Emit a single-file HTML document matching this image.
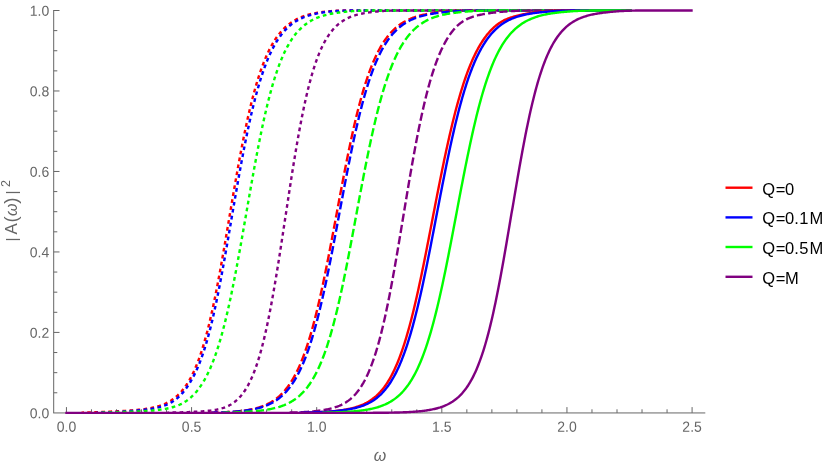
<!DOCTYPE html>
<html><head><meta charset="utf-8"><title>plot</title>
<style>
html,body{margin:0;padding:0;background:#fff;}
body{width:830px;height:468px;overflow:hidden;font-family:"Liberation Sans",sans-serif;}
svg{display:block;will-change:transform;}
text{font-family:"Liberation Sans",sans-serif;}
</style></head><body>
<svg width="830" height="468" viewBox="0 0 830 468">

<g stroke="#666666" stroke-width="1" fill="none" shape-rendering="auto">
<line x1="53.2" y1="412.95" x2="705.3" y2="412.95"/>
<line x1="53.7" y1="412.9" x2="53.7" y2="10.0"/>
<line x1="66.45" y1="412.9" x2="66.45" y2="407.1"/>
<line x1="91.48" y1="412.9" x2="91.48" y2="409.3"/>
<line x1="116.50" y1="412.9" x2="116.50" y2="409.3"/>
<line x1="141.53" y1="412.9" x2="141.53" y2="409.3"/>
<line x1="166.55" y1="412.9" x2="166.55" y2="409.3"/>
<line x1="191.57" y1="412.9" x2="191.57" y2="407.1"/>
<line x1="216.60" y1="412.9" x2="216.60" y2="409.3"/>
<line x1="241.62" y1="412.9" x2="241.62" y2="409.3"/>
<line x1="266.65" y1="412.9" x2="266.65" y2="409.3"/>
<line x1="291.68" y1="412.9" x2="291.68" y2="409.3"/>
<line x1="316.70" y1="412.9" x2="316.70" y2="407.1"/>
<line x1="341.73" y1="412.9" x2="341.73" y2="409.3"/>
<line x1="366.75" y1="412.9" x2="366.75" y2="409.3"/>
<line x1="391.78" y1="412.9" x2="391.78" y2="409.3"/>
<line x1="416.80" y1="412.9" x2="416.80" y2="409.3"/>
<line x1="441.82" y1="412.9" x2="441.82" y2="407.1"/>
<line x1="466.85" y1="412.9" x2="466.85" y2="409.3"/>
<line x1="491.88" y1="412.9" x2="491.88" y2="409.3"/>
<line x1="516.90" y1="412.9" x2="516.90" y2="409.3"/>
<line x1="541.93" y1="412.9" x2="541.93" y2="409.3"/>
<line x1="566.95" y1="412.9" x2="566.95" y2="407.1"/>
<line x1="591.98" y1="412.9" x2="591.98" y2="409.3"/>
<line x1="617.00" y1="412.9" x2="617.00" y2="409.3"/>
<line x1="642.03" y1="412.9" x2="642.03" y2="409.3"/>
<line x1="667.05" y1="412.9" x2="667.05" y2="409.3"/>
<line x1="692.08" y1="412.9" x2="692.08" y2="407.1"/>
<line x1="53.7" y1="392.78" x2="57.30" y2="392.78"/>
<line x1="53.7" y1="372.66" x2="57.30" y2="372.66"/>
<line x1="53.7" y1="352.54" x2="57.30" y2="352.54"/>
<line x1="53.7" y1="332.42" x2="59.50" y2="332.42"/>
<line x1="53.7" y1="312.30" x2="57.30" y2="312.30"/>
<line x1="53.7" y1="292.18" x2="57.30" y2="292.18"/>
<line x1="53.7" y1="272.06" x2="57.30" y2="272.06"/>
<line x1="53.7" y1="251.94" x2="59.50" y2="251.94"/>
<line x1="53.7" y1="231.82" x2="57.30" y2="231.82"/>
<line x1="53.7" y1="211.70" x2="57.30" y2="211.70"/>
<line x1="53.7" y1="191.58" x2="57.30" y2="191.58"/>
<line x1="53.7" y1="171.46" x2="59.50" y2="171.46"/>
<line x1="53.7" y1="151.34" x2="57.30" y2="151.34"/>
<line x1="53.7" y1="131.22" x2="57.30" y2="131.22"/>
<line x1="53.7" y1="111.10" x2="57.30" y2="111.10"/>
<line x1="53.7" y1="90.98" x2="59.50" y2="90.98"/>
<line x1="53.7" y1="70.86" x2="57.30" y2="70.86"/>
<line x1="53.7" y1="50.74" x2="57.30" y2="50.74"/>
<line x1="53.7" y1="30.62" x2="57.30" y2="30.62"/>
<line x1="53.7" y1="10.50" x2="59.50" y2="10.50"/>
</g>
<g fill="#666666" font-size="14px">
<text transform="translate(66.45,431.75) rotate(0.03) scale(1,1.05)" text-anchor="middle">0.0</text>
<text transform="translate(191.57,431.75) rotate(0.03) scale(1,1.05)" text-anchor="middle">0.5</text>
<text transform="translate(316.70,431.75) rotate(0.03) scale(1,1.05)" text-anchor="middle">1.0</text>
<text transform="translate(441.82,431.75) rotate(0.03) scale(1,1.05)" text-anchor="middle">1.5</text>
<text transform="translate(566.95,431.75) rotate(0.03) scale(1,1.05)" text-anchor="middle">2.0</text>
<text transform="translate(692.08,431.75) rotate(0.03) scale(1,1.05)" text-anchor="middle">2.5</text>
<text transform="translate(49.2,418.15) rotate(0.03) scale(1,1.03)" text-anchor="end">0.0</text>
<text transform="translate(49.2,337.67) rotate(0.03) scale(1,1.03)" text-anchor="end">0.2</text>
<text transform="translate(49.2,257.19) rotate(0.03) scale(1,1.03)" text-anchor="end">0.4</text>
<text transform="translate(49.2,176.71) rotate(0.03) scale(1,1.03)" text-anchor="end">0.6</text>
<text transform="translate(49.2,96.23) rotate(0.03) scale(1,1.03)" text-anchor="end">0.8</text>
<text transform="translate(49.2,15.75) rotate(0.03) scale(1,1.03)" text-anchor="end">1.0</text>
</g>
<text x="380" y="461" text-anchor="middle" font-size="16px" font-style="italic" fill="#666666">ω</text>
<g transform="translate(16.8,241.3) rotate(-90)" fill="#666666" font-size="15.5px">
<text x="-0.25" y="0.0">|</text><text x="6.9" y="0" font-size="16.9px">A</text><text x="18.75" y="0.56" font-size="18.7px">(</text><text x="25.2" y="0.4" font-style="italic" font-size="16px">ω</text><text x="37.6" y="0.56" font-size="18.7px">)</text><text x="46.7" y="0.0">|</text><text x="54.2" y="-6.6" font-size="12.5px">2</text>
</g>
<g fill="none" stroke-width="2.4" stroke-linejoin="round" stroke-linecap="butt">
<path d="M81.5,412.62 82.5,412.60 83.5,412.57 84.5,412.54 85.5,412.51 86.5,412.48 87.5,412.45 88.5,412.42 89.5,412.39 90.5,412.36 91.5,412.32 92.5,412.29 93.5,412.25 94.5,412.22 95.5,412.18 96.5,412.15 97.5,412.11 98.5,412.08 99.5,412.04 100.5,412.00 101.5,411.96 102.5,411.92 103.5,411.88 104.5,411.84 105.5,411.80 106.5,411.76 107.5,411.72 108.5,411.68 109.5,411.64 110.5,411.59 111.5,411.55 112.5,411.51 113.5,411.46 114.5,411.42 115.5,411.37 116.5,411.33 117.5,411.29 118.5,411.24 119.5,411.19 120.5,411.14 121.5,411.09 122.5,411.04 123.5,410.98 124.5,410.92 125.5,410.86 126.5,410.80 127.5,410.73 128.4,410.67 129.4,410.60 130.4,410.52 131.4,410.45 132.4,410.37 133.4,410.28 134.4,410.20 135.4,410.11 136.4,410.01 137.4,409.91 138.4,409.81 139.4,409.70 140.4,409.59 141.4,409.48 142.4,409.35 143.4,409.22 144.4,409.09 145.4,408.95 146.4,408.80 147.4,408.64 148.4,408.48 149.4,408.30 150.4,408.12 151.4,407.93 152.4,407.73 153.4,407.51 154.4,407.29 155.4,407.04 156.4,406.79 157.4,406.52 158.4,406.23 159.4,405.93 160.4,405.60 161.4,405.25 162.4,404.88 163.4,404.49 164.4,404.07 165.4,403.62 166.4,403.14 167.4,402.63 168.4,402.09 169.4,401.52 170.4,400.91 171.4,400.27 172.4,399.59 173.4,398.87 174.4,398.12 175.4,397.31 176.4,396.47 177.4,395.58 178.4,394.63 179.4,393.64 180.4,392.59 181.4,391.48 182.4,390.30 183.4,389.07 184.4,387.76 185.4,386.39 186.4,384.94 187.4,383.41 188.4,381.80 189.4,380.11 190.4,378.33 191.4,376.45 192.4,374.48 193.4,372.41 194.4,370.23 195.4,367.95 196.4,365.55 197.4,363.04 198.4,360.41 199.4,357.66 200.4,354.79 201.4,351.78 202.4,348.65 203.4,345.38 204.4,341.97 205.4,338.43 206.4,334.75 207.4,330.93 208.4,326.97 209.4,322.87 210.4,318.62 211.4,314.25 212.4,309.73 213.4,305.08 214.4,300.30 215.4,295.39 216.4,290.36 217.4,285.21 218.4,279.95 219.4,274.59 220.4,269.13 221.4,263.58 222.4,257.95 223.4,252.25 224.4,246.48 225.4,240.67 226.4,234.81 227.4,228.92 228.4,223.01 229.4,217.09 230.4,211.18 231.4,205.27 232.4,199.39 233.4,193.54 234.4,187.74 235.4,181.99 236.4,176.30 237.4,170.69 238.4,165.15 239.4,159.70 240.4,154.34 241.4,149.07 242.4,143.91 243.4,138.86 244.4,133.92 245.4,129.10 246.4,124.39 247.4,119.81 248.4,115.34 249.4,111.01 250.4,106.80 251.4,102.71 252.4,98.76 253.4,94.93 254.4,91.22 255.4,87.64 256.4,84.19 257.4,80.86 258.4,77.65 259.4,74.55 260.4,71.58 261.4,68.72 262.4,65.97 263.4,63.34 264.4,60.81 265.4,58.38 266.4,56.05 267.4,53.83 268.4,51.69 269.4,49.65 270.4,47.70 271.4,45.84 272.4,44.06 273.4,42.36 274.4,40.74 275.4,39.19 276.4,37.71 277.4,36.30 278.4,34.96 279.4,33.68 280.4,32.47 281.4,31.31 282.4,30.20 283.4,29.15 284.4,28.15 285.4,27.20 286.4,26.30 287.4,25.44 288.4,24.62 289.4,23.84 290.4,23.10 291.4,22.40 292.4,21.74 293.4,21.11 294.4,20.51 295.4,19.94 296.4,19.40 297.4,18.89 298.4,18.40 299.4,17.94 300.4,17.50 301.4,17.09 302.4,16.70 303.4,16.32 304.4,15.97 305.4,15.64 306.4,15.32 307.4,15.03 308.4,14.74 309.4,14.48 310.4,14.22 311.4,13.98 312.4,13.76 313.4,13.55 314.4,13.34 315.4,13.16 316.4,12.98 317.4,12.80 318.4,12.64 319.4,12.48 320.4,12.33 321.4,12.19 322.4,12.05 323.4,11.92 324.4,11.80 325.4,11.68 326.4,11.57 327.4,11.47 328.4,11.37 329.4,11.28 330.4,11.20 331.4,11.12 332.4,11.04 333.4,10.97 334.4,10.91 335.4,10.85 336.4,10.80 337.4,10.75 338.4,10.71 339.4,10.67 340.4,10.64 341.4,10.61 342.4,10.58 343.4,10.56 344.4,10.55 345.4,10.53 346.4,10.52 347.4,10.51 348.4,10.51 349.4,10.50 350.4,10.50 351.4,10.50 352.4,10.50 353.4,10.50 354.4,10.50 355.4,10.50 356.4,10.50 357.4,10.50 358.4,10.50 359.4,10.50 360.4,10.50 361.4,10.50 362.4,10.50 363.4,10.50 364.4,10.50 365.4,10.50 366.4,10.50 367.4,10.50 368.4,10.50 369.4,10.50 370.4,10.50 371.4,10.50 372.4,10.50 373.4,10.50 374.4,10.50 375.4,10.50 376.4,10.50 377.4,10.50 378.4,10.50 379.4,10.50 380.4,10.50 381.4,10.50 382.4,10.50 383.4,10.50 384.4,10.50 385.4,10.50 386.4,10.50 387.4,10.50 388.4,10.50 389.4,10.50 390.4,10.50 391.4,10.50 392.4,10.50 393.4,10.50 394.4,10.50 395.4,10.50 396.4,10.50 397.4,10.50 398.4,10.50 399.4,10.50 400.4,10.50 401.4,10.50 402.4,10.50 403.4,10.50 404.4,10.50 405.4,10.50 406.4,10.50 407.4,10.50 408.4,10.50 409.4,10.50 410.4,10.50 411.4,10.50 412.4,10.50 413.4,10.50 414.4,10.50 415.4,10.50 416.4,10.50 417.4,10.50 418.4,10.50 419.4,10.50 420.4,10.50 421.4,10.50 422.4,10.50 423.4,10.50 424.4,10.50 425.4,10.50 426.4,10.50 427.4,10.50 428.4,10.50 429.4,10.50 430.4,10.50 431.4,10.50 432.4,10.50 433.4,10.50 434.4,10.50 435.4,10.50 436.4,10.50 437.4,10.50 438.4,10.50 439.4,10.50 440.4,10.50 441.4,10.50 442.4,10.50 443.4,10.50 444.4,10.50 445.4,10.50 446.4,10.50 447.4,10.50 448.4,10.50 449.4,10.50 450.4,10.50 451.4,10.50 452.4,10.50 453.4,10.50 454.4,10.50 455.4,10.50 456.4,10.50 457.4,10.50 458.4,10.50 459.4,10.50 460.4,10.50 461.4,10.50 462.4,10.50 463.4,10.50 464.4,10.50 465.4,10.50 466.4,10.50 467.4,10.50 468.4,10.50 469.4,10.50 470.4,10.50 471.4,10.50 472.4,10.50 473.4,10.50 474.4,10.50 475.4,10.50 476.4,10.50 477.4,10.50 478.4,10.50 479.4,10.50 480.4,10.50 481.4,10.50 482.4,10.50 483.4,10.50 484.4,10.50 485.4,10.50 486.4,10.50 487.4,10.50 488.4,10.50 489.4,10.50 490.4,10.50 491.4,10.50 492.4,10.50 493.4,10.50 494.4,10.50 495.4,10.50 496.4,10.50 497.4,10.50 498.4,10.50 499.4,10.50 500.4,10.50 501.4,10.50 502.4,10.50 503.4,10.50 504.4,10.50 505.4,10.50 506.4,10.50 507.4,10.50 508.4,10.50 509.4,10.50 510.4,10.50 511.4,10.50 512.5,10.50 513.5,10.50 514.5,10.50 515.5,10.50 516.5,10.50 517.5,10.50 518.5,10.50 519.5,10.50 520.5,10.50 521.5,10.50 522.5,10.50 523.5,10.50 524.5,10.50 525.5,10.50 526.5,10.50 527.5,10.50 528.5,10.50 529.5,10.50 530.5,10.50 531.5,10.50 532.5,10.50 533.5,10.50 534.5,10.50 535.5,10.50 536.5,10.50 537.5,10.50 538.5,10.50 539.5,10.50 540.5,10.50 541.5,10.50 542.5,10.50 543.5,10.50 544.5,10.50 545.5,10.50 546.5,10.50 547.5,10.50 548.5,10.50 549.5,10.50 550.5,10.50 551.5,10.50 552.5,10.50 553.5,10.50 554.5,10.50 555.5,10.50 556.5,10.50 557.5,10.50 558.5,10.50 559.5,10.50 560.5,10.50 561.5,10.50 562.5,10.50 563.5,10.50 564.5,10.50 565.5,10.50 566.5,10.50 567.5,10.50 568.5,10.50 569.5,10.50 570.5,10.50 571.5,10.50 572.5,10.50 573.5,10.50 574.5,10.50 575.5,10.50 576.5,10.50 577.5,10.50 578.5,10.50 579.5,10.50 580.5,10.50 581.5,10.50 582.5,10.50 583.5,10.50 584.5,10.50 585.5,10.50 586.5,10.50 587.5,10.50 588.5,10.50 589.5,10.50 590.5,10.50 591.5,10.50 592.5,10.50 593.5,10.50 594.5,10.50 595.5,10.50 596.5,10.50 597.5,10.50 598.5,10.50 599.5,10.50 600.5,10.50 601.5,10.50 602.5,10.50 603.5,10.50 604.5,10.50 605.5,10.50 606.5,10.50 607.5,10.50 608.5,10.50 609.5,10.50 610.5,10.50 611.5,10.50 612.5,10.50 613.5,10.50 614.5,10.50 615.5,10.50 616.5,10.50 617.5,10.50 618.5,10.50 619.5,10.50 620.5,10.50 621.5,10.50 622.5,10.50 623.5,10.50 624.5,10.50 625.5,10.50 626.5,10.50 627.5,10.50 628.5,10.50 629.5,10.50 630.5,10.50" stroke="#ff0000" stroke-dasharray="3.7 3.35" stroke-dashoffset="1.28"/>
<path d="M96.5,412.65 97.5,412.62 98.5,412.60 99.5,412.57 100.5,412.55 101.5,412.52 102.5,412.49 103.5,412.46 104.5,412.43 105.5,412.39 106.5,412.36 107.5,412.32 108.5,412.28 109.5,412.24 110.5,412.20 111.5,412.16 112.5,412.11 113.5,412.07 114.5,412.02 115.5,411.97 116.5,411.92 117.5,411.87 118.5,411.81 119.5,411.76 120.5,411.70 121.5,411.64 122.5,411.58 123.5,411.52 124.5,411.45 125.5,411.39 126.5,411.32 127.5,411.25 128.4,411.18 129.4,411.10 130.4,411.03 131.4,410.95 132.4,410.87 133.4,410.79 134.4,410.70 135.4,410.62 136.4,410.53 137.4,410.44 138.4,410.35 139.4,410.26 140.4,410.17 141.4,410.08 142.4,409.98 143.4,409.88 144.4,409.77 145.4,409.66 146.4,409.54 147.4,409.41 148.4,409.28 149.4,409.14 150.4,408.99 151.4,408.84 152.4,408.67 153.4,408.49 154.4,408.30 155.4,408.10 156.4,407.89 157.4,407.67 158.4,407.42 159.4,407.17 160.4,406.89 161.4,406.60 162.4,406.29 163.4,405.96 164.4,405.60 165.4,405.23 166.4,404.82 167.4,404.39 168.4,403.93 169.4,403.44 170.4,402.91 171.4,402.35 172.4,401.75 173.4,401.11 174.4,400.42 175.4,399.69 176.4,398.92 177.4,398.09 178.4,397.21 179.4,396.28 180.4,395.29 181.4,394.23 182.4,393.12 183.4,391.95 184.4,390.71 185.4,389.41 186.4,388.04 187.4,386.60 188.4,385.10 189.4,383.53 190.4,381.89 191.4,380.18 192.4,378.40 193.4,376.53 194.4,374.58 195.4,372.54 196.4,370.41 197.4,368.19 198.4,365.86 199.4,363.42 200.4,360.87 201.4,358.19 202.4,355.39 203.4,352.46 204.4,349.40 205.4,346.20 206.4,342.86 207.4,339.39 208.4,335.77 209.4,332.01 210.4,328.11 211.4,324.07 212.4,319.88 213.4,315.55 214.4,311.08 215.4,306.48 216.4,301.74 217.4,296.88 218.4,291.89 219.4,286.79 220.4,281.57 221.4,276.25 222.4,270.84 223.4,265.34 224.4,259.76 225.4,254.11 226.4,248.41 227.4,242.66 228.4,236.87 229.4,231.06 230.4,225.24 231.4,219.40 232.4,213.57 233.4,207.75 234.4,201.95 235.4,196.18 236.4,190.44 237.4,184.76 238.4,179.13 239.4,173.56 240.4,168.06 241.4,162.64 242.4,157.30 243.4,152.05 244.4,146.89 245.4,141.84 246.4,136.88 247.4,132.04 248.4,127.31 249.4,122.70 250.4,118.20 251.4,113.82 252.4,109.57 253.4,105.43 254.4,101.42 255.4,97.53 256.4,93.77 257.4,90.12 258.4,86.61 259.4,83.21 260.4,79.93 261.4,76.77 262.4,73.72 263.4,70.79 264.4,67.97 265.4,65.26 266.4,62.66 267.4,60.17 268.4,57.77 269.4,55.48 270.4,53.28 271.4,51.17 272.4,49.16 273.4,47.23 274.4,45.39 275.4,43.63 276.4,41.94 277.4,40.34 278.4,38.81 279.4,37.35 280.4,35.95 281.4,34.63 282.4,33.36 283.4,32.16 284.4,31.01 285.4,29.92 286.4,28.88 287.4,27.89 288.4,26.95 289.4,26.06 290.4,25.21 291.4,24.41 292.4,23.64 293.4,22.91 294.4,22.22 295.4,21.57 296.4,20.95 297.4,20.36 298.4,19.80 299.4,19.27 300.4,18.77 301.4,18.29 302.4,17.84 303.4,17.42 304.4,17.01 305.4,16.63 306.4,16.27 307.4,15.93 308.4,15.60 309.4,15.30 310.4,15.01 311.4,14.73 312.4,14.47 313.4,14.23 314.4,14.00 315.4,13.78 316.4,13.57 317.4,13.38 318.4,13.20 319.4,13.02 320.4,12.86 321.4,12.70 322.4,12.54 323.4,12.40 324.4,12.26 325.4,12.12 326.4,11.99 327.4,11.87 328.4,11.76 329.4,11.65 330.4,11.54 331.4,11.45 332.4,11.35 333.4,11.27 334.4,11.19 335.4,11.11 336.4,11.04 337.4,10.97 338.4,10.91 339.4,10.86 340.4,10.81 341.4,10.76 342.4,10.72 343.4,10.68 344.4,10.65 345.4,10.62 346.4,10.59 347.4,10.57 348.4,10.55 349.4,10.54 350.4,10.53 351.4,10.52 352.4,10.51 353.4,10.50 354.4,10.50 355.4,10.50 356.4,10.50 357.4,10.50 358.4,10.50 359.4,10.50 360.4,10.50 361.4,10.50 362.4,10.50 363.4,10.50 364.4,10.50 365.4,10.50 366.4,10.50 367.4,10.50 368.4,10.50 369.4,10.50 370.4,10.50 371.4,10.50 372.4,10.50 373.4,10.50 374.4,10.50 375.4,10.50 376.4,10.50 377.4,10.50 378.4,10.50 379.4,10.50 380.4,10.50 381.4,10.50 382.4,10.50 383.4,10.50 384.4,10.50 385.4,10.50 386.4,10.50 387.4,10.50 388.4,10.50 389.4,10.50 390.4,10.50 391.4,10.50 392.4,10.50 393.4,10.50 394.4,10.50 395.4,10.50 396.4,10.50 397.4,10.50 398.4,10.50 399.4,10.50 400.4,10.50 401.4,10.50 402.4,10.50 403.4,10.50 404.4,10.50 405.4,10.50 406.4,10.50 407.4,10.50 408.4,10.50 409.4,10.50 410.4,10.50 411.4,10.50 412.4,10.50 413.4,10.50 414.4,10.50 415.4,10.50 416.4,10.50 417.4,10.50 418.4,10.50 419.4,10.50 420.4,10.50 421.4,10.50 422.4,10.50 423.4,10.50 424.4,10.50 425.4,10.50 426.4,10.50 427.4,10.50 428.4,10.50 429.4,10.50 430.4,10.50 431.4,10.50 432.4,10.50 433.4,10.50 434.4,10.50 435.4,10.50 436.4,10.50 437.4,10.50 438.4,10.50 439.4,10.50 440.4,10.50 441.4,10.50 442.4,10.50 443.4,10.50 444.4,10.50 445.4,10.50 446.4,10.50 447.4,10.50 448.4,10.50 449.4,10.50 450.4,10.50 451.4,10.50 452.4,10.50 453.4,10.50 454.4,10.50 455.4,10.50 456.4,10.50 457.4,10.50 458.4,10.50 459.4,10.50 460.4,10.50 461.4,10.50 462.4,10.50 463.4,10.50 464.4,10.50 465.4,10.50 466.4,10.50 467.4,10.50 468.4,10.50 469.4,10.50 470.4,10.50 471.4,10.50 472.4,10.50 473.4,10.50 474.4,10.50 475.4,10.50 476.4,10.50 477.4,10.50 478.4,10.50 479.4,10.50 480.4,10.50 481.4,10.50 482.4,10.50 483.4,10.50 484.4,10.50 485.4,10.50 486.4,10.50 487.4,10.50 488.4,10.50 489.4,10.50 490.4,10.50 491.4,10.50 492.4,10.50 493.4,10.50 494.4,10.50 495.4,10.50 496.4,10.50 497.4,10.50 498.4,10.50 499.4,10.50 500.4,10.50 501.4,10.50 502.4,10.50 503.4,10.50 504.4,10.50 505.4,10.50 506.4,10.50 507.4,10.50 508.4,10.50 509.4,10.50 510.4,10.50 511.4,10.50 512.5,10.50 513.5,10.50 514.5,10.50 515.5,10.50 516.5,10.50 517.5,10.50 518.5,10.50 519.5,10.50 520.5,10.50 521.5,10.50 522.5,10.50 523.5,10.50 524.5,10.50 525.5,10.50 526.5,10.50 527.5,10.50 528.5,10.50 529.5,10.50 530.5,10.50 531.5,10.50 532.5,10.50 533.5,10.50 534.5,10.50 535.5,10.50 536.5,10.50 537.5,10.50 538.5,10.50 539.5,10.50 540.5,10.50 541.5,10.50 542.5,10.50 543.5,10.50 544.5,10.50 545.5,10.50 546.5,10.50 547.5,10.50 548.5,10.50 549.5,10.50 550.5,10.50 551.5,10.50 552.5,10.50 553.5,10.50 554.5,10.50 555.5,10.50 556.5,10.50 557.5,10.50 558.5,10.50 559.5,10.50 560.5,10.50 561.5,10.50 562.5,10.50 563.5,10.50 564.5,10.50 565.5,10.50 566.5,10.50 567.5,10.50 568.5,10.50 569.5,10.50 570.5,10.50 571.5,10.50 572.5,10.50 573.5,10.50 574.5,10.50 575.5,10.50 576.5,10.50 577.5,10.50 578.5,10.50 579.5,10.50 580.5,10.50 581.5,10.50 582.5,10.50 583.5,10.50 584.5,10.50 585.5,10.50 586.5,10.50 587.5,10.50 588.5,10.50 589.5,10.50 590.5,10.50 591.5,10.50 592.5,10.50 593.5,10.50 594.5,10.50 595.5,10.50 596.5,10.50 597.5,10.50 598.5,10.50 599.5,10.50 600.5,10.50 601.5,10.50 602.5,10.50 603.5,10.50 604.5,10.50 605.5,10.50 606.5,10.50 607.5,10.50 608.5,10.50 609.5,10.50 610.5,10.50 611.5,10.50 612.5,10.50 613.5,10.50 614.5,10.50 615.5,10.50 616.5,10.50 617.5,10.50 618.5,10.50 619.5,10.50 620.5,10.50 621.5,10.50 622.5,10.50 623.5,10.50 624.5,10.50 625.5,10.50 626.5,10.50 627.5,10.50 628.5,10.50 629.5,10.50 630.5,10.50" stroke="#0000ff" stroke-dasharray="3.7 3.35" stroke-dashoffset="2.26"/>
<path d="M101.5,412.63 102.5,412.61 103.5,412.59 104.5,412.57 105.5,412.55 106.5,412.53 107.5,412.51 108.5,412.49 109.5,412.46 110.5,412.44 111.5,412.41 112.5,412.39 113.5,412.36 114.5,412.33 115.5,412.30 116.5,412.27 117.5,412.24 118.5,412.21 119.5,412.18 120.5,412.14 121.5,412.11 122.5,412.07 123.5,412.04 124.5,412.00 125.5,411.97 126.5,411.93 127.5,411.89 128.4,411.85 129.4,411.81 130.4,411.76 131.4,411.72 132.4,411.68 133.4,411.63 134.4,411.59 135.4,411.54 136.4,411.49 137.4,411.44 138.4,411.39 139.4,411.35 140.4,411.30 141.4,411.25 142.4,411.20 143.4,411.14 144.4,411.09 145.4,411.03 146.4,410.96 147.4,410.90 148.4,410.83 149.4,410.76 150.4,410.68 151.4,410.60 152.4,410.52 153.4,410.43 154.4,410.33 155.4,410.23 156.4,410.13 157.4,410.02 158.4,409.90 159.4,409.78 160.4,409.65 161.4,409.51 162.4,409.36 163.4,409.21 164.4,409.04 165.4,408.86 166.4,408.68 167.4,408.48 168.4,408.27 169.4,408.04 170.4,407.80 171.4,407.54 172.4,407.27 173.4,406.98 174.4,406.67 175.4,406.34 176.4,405.98 177.4,405.61 178.4,405.20 179.4,404.78 180.4,404.32 181.4,403.83 182.4,403.31 183.4,402.76 184.4,402.18 185.4,401.55 186.4,400.89 187.4,400.18 188.4,399.44 189.4,398.64 190.4,397.80 191.4,396.91 192.4,395.97 193.4,394.98 194.4,393.93 195.4,392.82 196.4,391.66 197.4,390.44 198.4,389.16 199.4,387.81 200.4,386.40 201.4,384.92 202.4,383.36 203.4,381.73 204.4,380.02 205.4,378.23 206.4,376.35 207.4,374.39 208.4,372.33 209.4,370.19 210.4,367.94 211.4,365.59 212.4,363.14 213.4,360.58 214.4,357.91 215.4,355.12 216.4,352.22 217.4,349.20 218.4,346.06 219.4,342.80 220.4,339.42 221.4,335.90 222.4,332.27 223.4,328.50 224.4,324.61 225.4,320.59 226.4,316.45 227.4,312.18 228.4,307.78 229.4,303.27 230.4,298.63 231.4,293.88 232.4,289.02 233.4,284.06 234.4,278.99 235.4,273.82 236.4,268.56 237.4,263.21 238.4,257.79 239.4,252.30 240.4,246.75 241.4,241.14 242.4,235.48 243.4,229.79 244.4,224.07 245.4,218.34 246.4,212.59 247.4,206.84 248.4,201.10 249.4,195.39 250.4,189.70 251.4,184.04 252.4,178.43 253.4,172.88 254.4,167.39 255.4,161.97 256.4,156.63 257.4,151.37 258.4,146.20 259.4,141.13 260.4,136.16 261.4,131.30 262.4,126.55 263.4,121.91 264.4,117.39 265.4,112.99 266.4,108.72 267.4,104.57 268.4,100.54 269.4,96.64 270.4,92.87 271.4,89.22 272.4,85.69 273.4,82.29 274.4,79.02 275.4,75.86 276.4,72.83 277.4,69.91 278.4,67.11 279.4,64.42 280.4,61.84 281.4,59.36 282.4,56.99 283.4,54.73 284.4,52.56 285.4,50.49 286.4,48.51 287.4,46.62 288.4,44.81 289.4,43.09 290.4,41.45 291.4,39.88 292.4,38.39 293.4,36.97 294.4,35.62 295.4,34.33 296.4,33.11 297.4,31.94 298.4,30.83 299.4,29.78 300.4,28.78 301.4,27.82 302.4,26.92 303.4,26.06 304.4,25.24 305.4,24.46 306.4,23.72 307.4,23.02 308.4,22.36 309.4,21.73 310.4,21.13 311.4,20.56 312.4,20.02 313.4,19.50 314.4,19.02 315.4,18.56 316.4,18.12 317.4,17.70 318.4,17.31 319.4,16.94 320.4,16.58 321.4,16.25 322.4,15.93 323.4,15.63 324.4,15.34 325.4,15.07 326.4,14.82 327.4,14.57 328.4,14.34 329.4,14.13 330.4,13.92 331.4,13.72 332.4,13.54 333.4,13.36 334.4,13.20 335.4,13.04 336.4,12.89 337.4,12.74 338.4,12.60 339.4,12.46 340.4,12.33 341.4,12.21 342.4,12.09 343.4,11.97 344.4,11.86 345.4,11.76 346.4,11.66 347.4,11.56 348.4,11.47 349.4,11.39 350.4,11.31 351.4,11.23 352.4,11.16 353.4,11.09 354.4,11.03 355.4,10.97 356.4,10.92 357.4,10.87 358.4,10.82 359.4,10.78 360.4,10.74 361.4,10.70 362.4,10.67 363.4,10.64 364.4,10.61 365.4,10.59 366.4,10.57 367.4,10.55 368.4,10.54 369.4,10.53 370.4,10.52 371.4,10.51 372.4,10.51 373.4,10.50 374.4,10.50 375.4,10.50 376.4,10.50 377.4,10.50 378.4,10.50 379.4,10.50 380.4,10.50 381.4,10.50 382.4,10.50 383.4,10.50 384.4,10.50 385.4,10.50 386.4,10.50 387.4,10.50 388.4,10.50 389.4,10.50 390.4,10.50 391.4,10.50 392.4,10.50 393.4,10.50 394.4,10.50 395.4,10.50 396.4,10.50 397.4,10.50 398.4,10.50 399.4,10.50 400.4,10.50 401.4,10.50 402.4,10.50 403.4,10.50 404.4,10.50 405.4,10.50 406.4,10.50 407.4,10.50 408.4,10.50 409.4,10.50 410.4,10.50 411.4,10.50 412.4,10.50 413.4,10.50 414.4,10.50 415.4,10.50 416.4,10.50 417.4,10.50 418.4,10.50 419.4,10.50 420.4,10.50 421.4,10.50 422.4,10.50 423.4,10.50 424.4,10.50 425.4,10.50 426.4,10.50 427.4,10.50 428.4,10.50 429.4,10.50 430.4,10.50 431.4,10.50 432.4,10.50 433.4,10.50 434.4,10.50 435.4,10.50 436.4,10.50 437.4,10.50 438.4,10.50 439.4,10.50 440.4,10.50 441.4,10.50 442.4,10.50 443.4,10.50 444.4,10.50 445.4,10.50 446.4,10.50 447.4,10.50 448.4,10.50 449.4,10.50 450.4,10.50 451.4,10.50 452.4,10.50 453.4,10.50 454.4,10.50 455.4,10.50 456.4,10.50 457.4,10.50 458.4,10.50 459.4,10.50 460.4,10.50 461.4,10.50 462.4,10.50 463.4,10.50 464.4,10.50 465.4,10.50 466.4,10.50 467.4,10.50 468.4,10.50 469.4,10.50 470.4,10.50 471.4,10.50 472.4,10.50 473.4,10.50 474.4,10.50 475.4,10.50 476.4,10.50 477.4,10.50 478.4,10.50 479.4,10.50 480.4,10.50 481.4,10.50 482.4,10.50 483.4,10.50 484.4,10.50 485.4,10.50 486.4,10.50 487.4,10.50 488.4,10.50 489.4,10.50 490.4,10.50 491.4,10.50 492.4,10.50 493.4,10.50 494.4,10.50 495.4,10.50 496.4,10.50 497.4,10.50 498.4,10.50 499.4,10.50 500.4,10.50 501.4,10.50 502.4,10.50 503.4,10.50 504.4,10.50 505.4,10.50 506.4,10.50 507.4,10.50 508.4,10.50 509.4,10.50 510.4,10.50 511.4,10.50 512.5,10.50 513.5,10.50 514.5,10.50 515.5,10.50 516.5,10.50 517.5,10.50 518.5,10.50 519.5,10.50 520.5,10.50 521.5,10.50 522.5,10.50 523.5,10.50 524.5,10.50 525.5,10.50 526.5,10.50 527.5,10.50 528.5,10.50 529.5,10.50 530.5,10.50 531.5,10.50 532.5,10.50 533.5,10.50 534.5,10.50 535.5,10.50 536.5,10.50 537.5,10.50 538.5,10.50 539.5,10.50 540.5,10.50 541.5,10.50 542.5,10.50 543.5,10.50 544.5,10.50 545.5,10.50 546.5,10.50 547.5,10.50 548.5,10.50 549.5,10.50 550.5,10.50 551.5,10.50 552.5,10.50 553.5,10.50 554.5,10.50 555.5,10.50 556.5,10.50 557.5,10.50 558.5,10.50 559.5,10.50 560.5,10.50 561.5,10.50 562.5,10.50 563.5,10.50 564.5,10.50 565.5,10.50 566.5,10.50 567.5,10.50 568.5,10.50 569.5,10.50 570.5,10.50 571.5,10.50 572.5,10.50 573.5,10.50 574.5,10.50 575.5,10.50 576.5,10.50 577.5,10.50 578.5,10.50 579.5,10.50 580.5,10.50 581.5,10.50 582.5,10.50 583.5,10.50 584.5,10.50 585.5,10.50 586.5,10.50 587.5,10.50 588.5,10.50 589.5,10.50 590.5,10.50 591.5,10.50 592.5,10.50 593.5,10.50 594.5,10.50 595.5,10.50 596.5,10.50 597.5,10.50 598.5,10.50 599.5,10.50 600.5,10.50 601.5,10.50 602.5,10.50 603.5,10.50 604.5,10.50 605.5,10.50 606.5,10.50 607.5,10.50 608.5,10.50 609.5,10.50 610.5,10.50 611.5,10.50 612.5,10.50 613.5,10.50 614.5,10.50 615.5,10.50 616.5,10.50 617.5,10.50 618.5,10.50 619.5,10.50 620.5,10.50 621.5,10.50 622.5,10.50 623.5,10.50 624.5,10.50 625.5,10.50 626.5,10.50 627.5,10.50 628.5,10.50 629.5,10.50 630.5,10.50" stroke="#00ff00" stroke-dasharray="3.7 3.35" stroke-dashoffset="7.02"/>
<path d="M167.4,412.64 168.4,412.62 169.4,412.60 170.4,412.59 171.4,412.57 172.4,412.55 173.4,412.53 174.4,412.51 175.4,412.48 176.4,412.46 177.4,412.44 178.4,412.41 179.4,412.38 180.4,412.36 181.4,412.33 182.4,412.30 183.4,412.26 184.4,412.23 185.4,412.19 186.4,412.16 187.4,412.12 188.4,412.08 189.4,412.04 190.4,412.00 191.4,411.95 192.4,411.91 193.4,411.86 194.4,411.81 195.4,411.75 196.4,411.70 197.4,411.65 198.4,411.59 199.4,411.53 200.4,411.47 201.4,411.41 202.4,411.34 203.4,411.26 204.4,411.18 205.4,411.10 206.4,411.01 207.4,410.91 208.4,410.81 209.4,410.69 210.4,410.58 211.4,410.45 212.4,410.31 213.4,410.16 214.4,410.00 215.4,409.83 216.4,409.64 217.4,409.45 218.4,409.23 219.4,409.00 220.4,408.74 221.4,408.47 222.4,408.18 223.4,407.86 224.4,407.51 225.4,407.14 226.4,406.73 227.4,406.29 228.4,405.82 229.4,405.31 230.4,404.76 231.4,404.16 232.4,403.53 233.4,402.84 234.4,402.10 235.4,401.31 236.4,400.46 237.4,399.56 238.4,398.59 239.4,397.56 240.4,396.46 241.4,395.29 242.4,394.04 243.4,392.71 244.4,391.29 245.4,389.78 246.4,388.17 247.4,386.47 248.4,384.66 249.4,382.74 250.4,380.70 251.4,378.54 252.4,376.26 253.4,373.85 254.4,371.30 255.4,368.61 256.4,365.77 257.4,362.79 258.4,359.65 259.4,356.35 260.4,352.89 261.4,349.26 262.4,345.47 263.4,341.51 264.4,337.38 265.4,333.08 266.4,328.60 267.4,323.95 268.4,319.13 269.4,314.15 270.4,309.00 271.4,303.69 272.4,298.23 273.4,292.62 274.4,286.87 275.4,280.98 276.4,274.98 277.4,268.85 278.4,262.62 279.4,256.30 280.4,249.89 281.4,243.42 282.4,236.89 283.4,230.32 284.4,223.72 285.4,217.10 286.4,210.49 287.4,203.89 288.4,197.31 289.4,190.77 290.4,184.29 291.4,177.88 292.4,171.54 293.4,165.30 294.4,159.16 295.4,153.12 296.4,147.21 297.4,141.43 298.4,135.78 299.4,130.27 300.4,124.91 301.4,119.71 302.4,114.66 303.4,109.77 304.4,105.04 305.4,100.47 306.4,96.07 307.4,91.83 308.4,87.75 309.4,83.83 310.4,80.07 311.4,76.47 312.4,73.02 313.4,69.72 314.4,66.57 315.4,63.56 316.4,60.69 317.4,57.96 318.4,55.36 319.4,52.88 320.4,50.53 321.4,48.29 322.4,46.17 323.4,44.16 324.4,42.25 325.4,40.44 326.4,38.72 327.4,37.10 328.4,35.56 329.4,34.11 330.4,32.74 331.4,31.44 332.4,30.21 333.4,29.06 334.4,27.96 335.4,26.93 336.4,25.96 337.4,25.04 338.4,24.17 339.4,23.36 340.4,22.59 341.4,21.86 342.4,21.18 343.4,20.54 344.4,19.93 345.4,19.36 346.4,18.82 347.4,18.32 348.4,17.84 349.4,17.40 350.4,16.98 351.4,16.58 352.4,16.21 353.4,15.86 354.4,15.53 355.4,15.22 356.4,14.93 357.4,14.66 358.4,14.40 359.4,14.16 360.4,13.93 361.4,13.72 362.4,13.52 363.4,13.33 364.4,13.15 365.4,12.98 366.4,12.82 367.4,12.66 368.4,12.51 369.4,12.37 370.4,12.23 371.4,12.10 372.4,11.98 373.4,11.86 374.4,11.74 375.4,11.64 376.4,11.53 377.4,11.44 378.4,11.35 379.4,11.26 380.4,11.18 381.4,11.11 382.4,11.04 383.4,10.97 384.4,10.91 385.4,10.86 386.4,10.81 387.4,10.76 388.4,10.72 389.4,10.68 390.4,10.65 391.4,10.62 392.4,10.60 393.4,10.57 394.4,10.56 395.4,10.54 396.4,10.53 397.4,10.52 398.4,10.51 399.4,10.50 400.4,10.50 401.4,10.50 402.4,10.50 403.4,10.50 404.4,10.50 405.4,10.50 406.4,10.50 407.4,10.50 408.4,10.50 409.4,10.50 410.4,10.50 411.4,10.50 412.4,10.50 413.4,10.50 414.4,10.50 415.4,10.50 416.4,10.50 417.4,10.50 418.4,10.50 419.4,10.50 420.4,10.50 421.4,10.50 422.4,10.50 423.4,10.50 424.4,10.50 425.4,10.50 426.4,10.50 427.4,10.50 428.4,10.50 429.4,10.50 430.4,10.50 431.4,10.50 432.4,10.50 433.4,10.50 434.4,10.50 435.4,10.50 436.4,10.50 437.4,10.50 438.4,10.50 439.4,10.50 440.4,10.50 441.4,10.50 442.4,10.50 443.4,10.50 444.4,10.50 445.4,10.50 446.4,10.50 447.4,10.50 448.4,10.50 449.4,10.50 450.4,10.50 451.4,10.50 452.4,10.50 453.4,10.50 454.4,10.50 455.4,10.50 456.4,10.50 457.4,10.50 458.4,10.50 459.4,10.50 460.4,10.50 461.4,10.50 462.4,10.50 463.4,10.50 464.4,10.50 465.4,10.50 466.4,10.50 467.4,10.50 468.4,10.50 469.4,10.50 470.4,10.50 471.4,10.50 472.4,10.50 473.4,10.50 474.4,10.50 475.4,10.50 476.4,10.50 477.4,10.50 478.4,10.50 479.4,10.50 480.4,10.50 481.4,10.50 482.4,10.50 483.4,10.50 484.4,10.50 485.4,10.50 486.4,10.50 487.4,10.50 488.4,10.50 489.4,10.50 490.4,10.50 491.4,10.50 492.4,10.50 493.4,10.50 494.4,10.50 495.4,10.50 496.4,10.50 497.4,10.50 498.4,10.50 499.4,10.50 500.4,10.50 501.4,10.50 502.4,10.50 503.4,10.50 504.4,10.50 505.4,10.50 506.4,10.50 507.4,10.50 508.4,10.50 509.4,10.50 510.4,10.50 511.4,10.50 512.5,10.50 513.5,10.50 514.5,10.50 515.5,10.50 516.5,10.50 517.5,10.50 518.5,10.50 519.5,10.50 520.5,10.50 521.5,10.50 522.5,10.50 523.5,10.50 524.5,10.50 525.5,10.50 526.5,10.50 527.5,10.50 528.5,10.50 529.5,10.50 530.5,10.50 531.5,10.50 532.5,10.50 533.5,10.50 534.5,10.50 535.5,10.50 536.5,10.50 537.5,10.50 538.5,10.50 539.5,10.50 540.5,10.50 541.5,10.50 542.5,10.50 543.5,10.50 544.5,10.50 545.5,10.50 546.5,10.50 547.5,10.50 548.5,10.50 549.5,10.50 550.5,10.50 551.5,10.50 552.5,10.50 553.5,10.50 554.5,10.50 555.5,10.50 556.5,10.50 557.5,10.50 558.5,10.50 559.5,10.50 560.5,10.50 561.5,10.50 562.5,10.50 563.5,10.50 564.5,10.50 565.5,10.50 566.5,10.50 567.5,10.50 568.5,10.50 569.5,10.50 570.5,10.50 571.5,10.50 572.5,10.50 573.5,10.50 574.5,10.50 575.5,10.50 576.5,10.50 577.5,10.50 578.5,10.50 579.5,10.50 580.5,10.50 581.5,10.50 582.5,10.50 583.5,10.50 584.5,10.50 585.5,10.50 586.5,10.50 587.5,10.50 588.5,10.50 589.5,10.50 590.5,10.50 591.5,10.50 592.5,10.50 593.5,10.50 594.5,10.50 595.5,10.50 596.5,10.50 597.5,10.50 598.5,10.50 599.5,10.50 600.5,10.50 601.5,10.50 602.5,10.50 603.5,10.50 604.5,10.50 605.5,10.50 606.5,10.50 607.5,10.50 608.5,10.50 609.5,10.50 610.5,10.50 611.5,10.50 612.5,10.50 613.5,10.50 614.5,10.50 615.5,10.50 616.5,10.50 617.5,10.50 618.5,10.50 619.5,10.50 620.5,10.50 621.5,10.50 622.5,10.50 623.5,10.50 624.5,10.50 625.5,10.50 626.5,10.50 627.5,10.50 628.5,10.50 629.5,10.50 630.5,10.50" stroke="#800080" stroke-dasharray="3.7 3.35" stroke-dashoffset="1.94"/>
<path d="M210.4,412.64 211.4,412.63 212.4,412.60 213.4,412.58 214.4,412.56 215.4,412.53 216.4,412.51 217.4,412.48 218.4,412.45 219.4,412.42 220.4,412.38 221.4,412.35 222.4,412.31 223.4,412.26 224.4,412.22 225.4,412.17 226.4,412.12 227.4,412.07 228.4,412.02 229.4,411.96 230.4,411.89 231.4,411.83 232.4,411.76 233.4,411.68 234.4,411.60 235.4,411.52 236.4,411.43 237.4,411.34 238.4,411.24 239.4,411.14 240.4,411.02 241.4,410.91 242.4,410.79 243.4,410.66 244.4,410.52 245.4,410.38 246.4,410.22 247.4,410.06 248.4,409.89 249.4,409.72 250.4,409.53 251.4,409.33 252.4,409.12 253.4,408.90 254.4,408.67 255.4,408.42 256.4,408.16 257.4,407.89 258.4,407.60 259.4,407.29 260.4,406.97 261.4,406.63 262.4,406.27 263.4,405.89 264.4,405.49 265.4,405.07 266.4,404.62 267.4,404.15 268.4,403.65 269.4,403.13 270.4,402.58 271.4,402.00 272.4,401.39 273.4,400.75 274.4,400.07 275.4,399.35 276.4,398.60 277.4,397.81 278.4,396.98 279.4,396.11 280.4,395.19 281.4,394.22 282.4,393.21 283.4,392.14 284.4,391.02 285.4,389.85 286.4,388.61 287.4,387.32 288.4,385.96 289.4,384.54 290.4,383.05 291.4,381.49 292.4,379.86 293.4,378.15 294.4,376.37 295.4,374.50 296.4,372.55 297.4,370.52 298.4,368.40 299.4,366.18 300.4,363.88 301.4,361.47 302.4,358.97 303.4,356.37 304.4,353.67 305.4,350.87 306.4,347.96 307.4,344.94 308.4,341.81 309.4,338.58 310.4,335.23 311.4,331.78 312.4,328.21 313.4,324.53 314.4,320.74 315.4,316.84 316.4,312.83 317.4,308.72 318.4,304.49 319.4,300.17 320.4,295.74 321.4,291.22 322.4,286.60 323.4,281.89 324.4,277.10 325.4,272.22 326.4,267.27 327.4,262.25 328.4,257.16 329.4,252.01 330.4,246.81 331.4,241.57 332.4,236.28 333.4,230.97 334.4,225.63 335.4,220.27 336.4,214.91 337.4,209.54 338.4,204.18 339.4,198.83 340.4,193.50 341.4,188.20 342.4,182.94 343.4,177.72 344.4,172.55 345.4,167.43 346.4,162.38 347.4,157.39 348.4,152.48 349.4,147.65 350.4,142.90 351.4,138.23 352.4,133.66 353.4,129.18 354.4,124.80 355.4,120.52 356.4,116.35 357.4,112.28 358.4,108.31 359.4,104.46 360.4,100.71 361.4,97.07 362.4,93.54 363.4,90.12 364.4,86.81 365.4,83.60 366.4,80.51 367.4,77.51 368.4,74.63 369.4,71.84 370.4,69.16 371.4,66.57 372.4,64.08 373.4,61.69 374.4,59.39 375.4,57.18 376.4,55.06 377.4,53.02 378.4,51.07 379.4,49.19 380.4,47.40 381.4,45.68 382.4,44.03 383.4,42.46 384.4,40.95 385.4,39.51 386.4,38.13 387.4,36.82 388.4,35.56 389.4,34.36 390.4,33.21 391.4,32.12 392.4,31.07 393.4,30.07 394.4,29.12 395.4,28.22 396.4,27.35 397.4,26.53 398.4,25.75 399.4,25.00 400.4,24.29 401.4,23.61 402.4,22.96 403.4,22.35 404.4,21.76 405.4,21.21 406.4,20.68 407.4,20.17 408.4,19.69 409.4,19.24 410.4,18.80 411.4,18.39 412.4,17.99 413.4,17.62 414.4,17.27 415.4,16.93 416.4,16.61 417.4,16.30 418.4,16.01 419.4,15.73 420.4,15.47 421.4,15.22 422.4,14.99 423.4,14.76 424.4,14.55 425.4,14.34 426.4,14.15 427.4,13.97 428.4,13.79 429.4,13.63 430.4,13.47 431.4,13.32 432.4,13.18 433.4,13.04 434.4,12.91 435.4,12.78 436.4,12.65 437.4,12.53 438.4,12.41 439.4,12.30 440.4,12.19 441.4,12.09 442.4,11.99 443.4,11.89 444.4,11.80 445.4,11.71 446.4,11.62 447.4,11.54 448.4,11.46 449.4,11.39 450.4,11.32 451.4,11.25 452.4,11.19 453.4,11.13 454.4,11.07 455.4,11.01 456.4,10.96 457.4,10.92 458.4,10.87 459.4,10.83 460.4,10.79 461.4,10.76 462.4,10.72 463.4,10.69 464.4,10.66 465.4,10.64 466.4,10.62 467.4,10.60 468.4,10.58 469.4,10.56 470.4,10.55 471.4,10.54 472.4,10.53 473.4,10.52 474.4,10.51 475.4,10.51 476.4,10.50 477.4,10.50 478.4,10.50 479.4,10.50 480.4,10.50 481.4,10.50 482.4,10.50 483.4,10.50 484.4,10.50 485.4,10.50 486.4,10.50 487.4,10.50 488.4,10.50 489.4,10.50 490.4,10.50 491.4,10.50 492.4,10.50 493.4,10.50 494.4,10.50 495.4,10.50 496.4,10.50 497.4,10.50 498.4,10.50 499.4,10.50 500.4,10.50 501.4,10.50 502.4,10.50 503.4,10.50 504.4,10.50 505.4,10.50 506.4,10.50 507.4,10.50 508.4,10.50 509.4,10.50 510.4,10.50 511.4,10.50 512.5,10.50 513.5,10.50 514.5,10.50 515.5,10.50 516.5,10.50 517.5,10.50 518.5,10.50 519.5,10.50 520.5,10.50 521.5,10.50 522.5,10.50 523.5,10.50 524.5,10.50 525.5,10.50 526.5,10.50 527.5,10.50 528.5,10.50 529.5,10.50 530.5,10.50 531.5,10.50 532.5,10.50 533.5,10.50 534.5,10.50 535.5,10.50 536.5,10.50 537.5,10.50 538.5,10.50 539.5,10.50 540.5,10.50 541.5,10.50 542.5,10.50 543.5,10.50 544.5,10.50 545.5,10.50 546.5,10.50 547.5,10.50 548.5,10.50 549.5,10.50 550.5,10.50 551.5,10.50 552.5,10.50 553.5,10.50 554.5,10.50 555.5,10.50 556.5,10.50 557.5,10.50 558.5,10.50 559.5,10.50 560.5,10.50 561.5,10.50 562.5,10.50 563.5,10.50 564.5,10.50 565.5,10.50 566.5,10.50 567.5,10.50 568.5,10.50 569.5,10.50 570.5,10.50 571.5,10.50 572.5,10.50 573.5,10.50 574.5,10.50 575.5,10.50 576.5,10.50 577.5,10.50 578.5,10.50 579.5,10.50 580.5,10.50 581.5,10.50 582.5,10.50 583.5,10.50 584.5,10.50 585.5,10.50 586.5,10.50 587.5,10.50 588.5,10.50 589.5,10.50 590.5,10.50 591.5,10.50 592.5,10.50 593.5,10.50 594.5,10.50 595.5,10.50 596.5,10.50 597.5,10.50 598.5,10.50 599.5,10.50 600.5,10.50 601.5,10.50 602.5,10.50 603.5,10.50 604.5,10.50 605.5,10.50 606.5,10.50 607.5,10.50 608.5,10.50 609.5,10.50 610.5,10.50 611.5,10.50 612.5,10.50 613.5,10.50 614.5,10.50 615.5,10.50 616.5,10.50 617.5,10.50 618.5,10.50 619.5,10.50 620.5,10.50 621.5,10.50 622.5,10.50 623.5,10.50 624.5,10.50 625.5,10.50 626.5,10.50 627.5,10.50 628.5,10.50 629.5,10.50 630.5,10.50" stroke="#ff0000" stroke-dasharray="8.2 3.2" stroke-dashoffset="0.03"/>
<path d="M211.4,412.64 212.4,412.62 213.4,412.59 214.4,412.57 215.4,412.55 216.4,412.52 217.4,412.50 218.4,412.47 219.4,412.44 220.4,412.41 221.4,412.37 222.4,412.34 223.4,412.30 224.4,412.26 225.4,412.21 226.4,412.17 227.4,412.12 228.4,412.07 229.4,412.01 230.4,411.96 231.4,411.89 232.4,411.83 233.4,411.76 234.4,411.69 235.4,411.61 236.4,411.53 237.4,411.45 238.4,411.36 239.4,411.26 240.4,411.16 241.4,411.06 242.4,410.94 243.4,410.83 244.4,410.70 245.4,410.57 246.4,410.43 247.4,410.29 248.4,410.14 249.4,409.98 250.4,409.81 251.4,409.63 252.4,409.45 253.4,409.25 254.4,409.05 255.4,408.83 256.4,408.60 257.4,408.35 258.4,408.10 259.4,407.83 260.4,407.54 261.4,407.24 262.4,406.92 263.4,406.59 264.4,406.23 265.4,405.86 266.4,405.47 267.4,405.06 268.4,404.62 269.4,404.16 270.4,403.68 271.4,403.17 272.4,402.63 273.4,402.06 274.4,401.47 275.4,400.84 276.4,400.18 277.4,399.48 278.4,398.75 279.4,397.98 280.4,397.17 281.4,396.32 282.4,395.43 283.4,394.49 284.4,393.51 285.4,392.47 286.4,391.38 287.4,390.24 288.4,389.05 289.4,387.79 290.4,386.47 291.4,385.09 292.4,383.65 293.4,382.14 294.4,380.55 295.4,378.89 296.4,377.16 297.4,375.35 298.4,373.46 299.4,371.48 300.4,369.42 301.4,367.27 302.4,365.03 303.4,362.69 304.4,360.26 305.4,357.74 306.4,355.11 307.4,352.38 308.4,349.55 309.4,346.61 310.4,343.56 311.4,340.41 312.4,337.14 313.4,333.77 314.4,330.29 315.4,326.69 316.4,322.99 317.4,319.18 318.4,315.25 319.4,311.22 320.4,307.08 321.4,302.84 322.4,298.50 323.4,294.05 324.4,289.51 325.4,284.88 326.4,280.16 327.4,275.35 328.4,270.47 329.4,265.51 330.4,260.48 331.4,255.38 332.4,250.24 333.4,245.04 334.4,239.79 335.4,234.52 336.4,229.21 337.4,223.88 338.4,218.53 339.4,213.18 340.4,207.83 341.4,202.49 342.4,197.16 343.4,191.86 344.4,186.59 345.4,181.35 346.4,176.16 347.4,171.02 348.4,165.94 349.4,160.92 350.4,155.97 351.4,151.09 352.4,146.29 353.4,141.58 354.4,136.96 355.4,132.42 356.4,127.99 357.4,123.65 358.4,119.41 359.4,115.28 360.4,111.25 361.4,107.33 362.4,103.52 363.4,99.81 364.4,96.21 365.4,92.72 366.4,89.34 367.4,86.07 368.4,82.90 369.4,79.84 370.4,76.89 371.4,74.04 372.4,71.29 373.4,68.64 374.4,66.08 375.4,63.63 376.4,61.27 377.4,58.99 378.4,56.81 379.4,54.72 380.4,52.71 381.4,50.78 382.4,48.93 383.4,47.16 384.4,45.46 385.4,43.84 386.4,42.29 387.4,40.80 388.4,39.38 389.4,38.01 390.4,36.72 391.4,35.47 392.4,34.29 393.4,33.15 394.4,32.07 395.4,31.04 396.4,30.06 397.4,29.12 398.4,28.22 399.4,27.37 400.4,26.55 401.4,25.78 402.4,25.04 403.4,24.33 404.4,23.66 405.4,23.02 406.4,22.41 407.4,21.83 408.4,21.28 409.4,20.75 410.4,20.25 411.4,19.78 412.4,19.32 413.4,18.89 414.4,18.48 415.4,18.09 416.4,17.72 417.4,17.36 418.4,17.03 419.4,16.71 420.4,16.40 421.4,16.11 422.4,15.84 423.4,15.57 424.4,15.33 425.4,15.09 426.4,14.86 427.4,14.65 428.4,14.45 429.4,14.25 430.4,14.07 431.4,13.89 432.4,13.73 433.4,13.57 434.4,13.42 435.4,13.27 436.4,13.14 437.4,13.00 438.4,12.87 439.4,12.75 440.4,12.63 441.4,12.51 442.4,12.40 443.4,12.29 444.4,12.18 445.4,12.08 446.4,11.98 447.4,11.89 448.4,11.80 449.4,11.71 450.4,11.63 451.4,11.55 452.4,11.47 453.4,11.40 454.4,11.33 455.4,11.26 456.4,11.20 457.4,11.14 458.4,11.08 459.4,11.03 460.4,10.98 461.4,10.93 462.4,10.89 463.4,10.85 464.4,10.81 465.4,10.77 466.4,10.74 467.4,10.71 468.4,10.68 469.4,10.65 470.4,10.63 471.4,10.61 472.4,10.59 473.4,10.57 474.4,10.56 475.4,10.54 476.4,10.53 477.4,10.52 478.4,10.52 479.4,10.51 480.4,10.51 481.4,10.50 482.4,10.50 483.4,10.50 484.4,10.50 485.4,10.50 486.4,10.50 487.4,10.50 488.4,10.50 489.4,10.50 490.4,10.50 491.4,10.50 492.4,10.50 493.4,10.50 494.4,10.50 495.4,10.50 496.4,10.50 497.4,10.50 498.4,10.50 499.4,10.50 500.4,10.50 501.4,10.50 502.4,10.50 503.4,10.50 504.4,10.50 505.4,10.50 506.4,10.50 507.4,10.50 508.4,10.50 509.4,10.50 510.4,10.50 511.4,10.50 512.5,10.50 513.5,10.50 514.5,10.50 515.5,10.50 516.5,10.50 517.5,10.50 518.5,10.50 519.5,10.50 520.5,10.50 521.5,10.50 522.5,10.50 523.5,10.50 524.5,10.50 525.5,10.50 526.5,10.50 527.5,10.50 528.5,10.50 529.5,10.50 530.5,10.50 531.5,10.50 532.5,10.50 533.5,10.50 534.5,10.50 535.5,10.50 536.5,10.50 537.5,10.50 538.5,10.50 539.5,10.50 540.5,10.50 541.5,10.50 542.5,10.50 543.5,10.50 544.5,10.50 545.5,10.50 546.5,10.50 547.5,10.50 548.5,10.50 549.5,10.50 550.5,10.50 551.5,10.50 552.5,10.50 553.5,10.50 554.5,10.50 555.5,10.50 556.5,10.50 557.5,10.50 558.5,10.50 559.5,10.50 560.5,10.50 561.5,10.50 562.5,10.50 563.5,10.50 564.5,10.50 565.5,10.50 566.5,10.50 567.5,10.50 568.5,10.50 569.5,10.50 570.5,10.50 571.5,10.50 572.5,10.50 573.5,10.50 574.5,10.50 575.5,10.50 576.5,10.50 577.5,10.50 578.5,10.50 579.5,10.50 580.5,10.50 581.5,10.50 582.5,10.50 583.5,10.50 584.5,10.50 585.5,10.50 586.5,10.50 587.5,10.50 588.5,10.50 589.5,10.50 590.5,10.50 591.5,10.50 592.5,10.50 593.5,10.50 594.5,10.50 595.5,10.50 596.5,10.50 597.5,10.50 598.5,10.50 599.5,10.50 600.5,10.50 601.5,10.50 602.5,10.50 603.5,10.50 604.5,10.50 605.5,10.50 606.5,10.50 607.5,10.50 608.5,10.50 609.5,10.50 610.5,10.50 611.5,10.50 612.5,10.50 613.5,10.50 614.5,10.50 615.5,10.50 616.5,10.50 617.5,10.50 618.5,10.50 619.5,10.50 620.5,10.50 621.5,10.50 622.5,10.50 623.5,10.50 624.5,10.50 625.5,10.50 626.5,10.50 627.5,10.50 628.5,10.50 629.5,10.50 630.5,10.50" stroke="#0000ff" stroke-dasharray="8.2 3.2" stroke-dashoffset="1.75"/>
<path d="M222.4,412.65 223.4,412.63 224.4,412.61 225.4,412.59 226.4,412.57 227.4,412.55 228.4,412.53 229.4,412.50 230.4,412.48 231.4,412.45 232.4,412.42 233.4,412.39 234.4,412.36 235.4,412.33 236.4,412.29 237.4,412.25 238.4,412.22 239.4,412.17 240.4,412.13 241.4,412.09 242.4,412.04 243.4,411.99 244.4,411.93 245.4,411.88 246.4,411.82 247.4,411.75 248.4,411.69 249.4,411.62 250.4,411.55 251.4,411.47 252.4,411.39 253.4,411.31 254.4,411.22 255.4,411.13 256.4,411.03 257.4,410.93 258.4,410.82 259.4,410.71 260.4,410.60 261.4,410.47 262.4,410.34 263.4,410.21 264.4,410.07 265.4,409.92 266.4,409.77 267.4,409.61 268.4,409.44 269.4,409.25 270.4,409.06 271.4,408.86 272.4,408.65 273.4,408.43 274.4,408.19 275.4,407.95 276.4,407.69 277.4,407.41 278.4,407.12 279.4,406.82 280.4,406.49 281.4,406.16 282.4,405.80 283.4,405.42 284.4,405.03 285.4,404.61 286.4,404.17 287.4,403.70 288.4,403.22 289.4,402.70 290.4,402.16 291.4,401.59 292.4,400.99 293.4,400.36 294.4,399.69 295.4,398.99 296.4,398.25 297.4,397.48 298.4,396.66 299.4,395.80 300.4,394.90 301.4,393.95 302.4,392.96 303.4,391.91 304.4,390.81 305.4,389.65 306.4,388.44 307.4,387.17 308.4,385.83 309.4,384.43 310.4,382.97 311.4,381.43 312.4,379.82 313.4,378.13 314.4,376.36 315.4,374.52 316.4,372.59 317.4,370.57 318.4,368.46 319.4,366.26 320.4,363.97 321.4,361.58 322.4,359.09 323.4,356.50 324.4,353.81 325.4,351.01 326.4,348.10 327.4,345.08 328.4,341.95 329.4,338.71 330.4,335.35 331.4,331.89 332.4,328.30 333.4,324.61 334.4,320.80 335.4,316.88 336.4,312.84 337.4,308.70 338.4,304.45 339.4,300.09 340.4,295.63 341.4,291.07 342.4,286.41 343.4,281.66 344.4,276.82 345.4,271.91 346.4,266.91 347.4,261.85 348.4,256.72 349.4,251.53 350.4,246.29 351.4,241.01 352.4,235.69 353.4,230.34 354.4,224.98 355.4,219.59 356.4,214.21 357.4,208.82 358.4,203.45 359.4,198.09 360.4,192.76 361.4,187.46 362.4,182.21 363.4,177.00 364.4,171.85 365.4,166.75 366.4,161.73 367.4,156.77 368.4,151.89 369.4,147.09 370.4,142.38 371.4,137.76 372.4,133.22 373.4,128.79 374.4,124.45 375.4,120.22 376.4,116.09 377.4,112.06 378.4,108.14 379.4,104.32 380.4,100.61 381.4,97.01 382.4,93.52 383.4,90.13 384.4,86.85 385.4,83.68 386.4,80.61 387.4,77.64 388.4,74.77 389.4,72.01 390.4,69.34 391.4,66.77 392.4,64.30 393.4,61.92 394.4,59.63 395.4,57.42 396.4,55.31 397.4,53.27 398.4,51.32 399.4,49.45 400.4,47.65 401.4,45.93 402.4,44.28 403.4,42.70 404.4,41.19 405.4,39.74 406.4,38.35 407.4,37.02 408.4,35.76 409.4,34.54 410.4,33.39 411.4,32.28 412.4,31.22 413.4,30.21 414.4,29.25 415.4,28.33 416.4,27.46 417.4,26.62 418.4,25.82 419.4,25.06 420.4,24.34 421.4,23.65 422.4,22.99 423.4,22.37 424.4,21.77 425.4,21.21 426.4,20.67 427.4,20.16 428.4,19.67 429.4,19.20 430.4,18.76 431.4,18.34 432.4,17.95 433.4,17.57 434.4,17.21 435.4,16.86 436.4,16.54 437.4,16.23 438.4,15.94 439.4,15.66 440.4,15.39 441.4,15.14 442.4,14.91 443.4,14.68 444.4,14.46 445.4,14.26 446.4,14.07 447.4,13.88 448.4,13.71 449.4,13.54 450.4,13.39 451.4,13.24 452.4,13.09 453.4,12.96 454.4,12.82 455.4,12.69 456.4,12.57 457.4,12.45 458.4,12.33 459.4,12.22 460.4,12.11 461.4,12.01 462.4,11.91 463.4,11.81 464.4,11.72 465.4,11.63 466.4,11.55 467.4,11.47 468.4,11.39 469.4,11.32 470.4,11.25 471.4,11.18 472.4,11.12 473.4,11.06 474.4,11.01 475.4,10.96 476.4,10.91 477.4,10.86 478.4,10.82 479.4,10.78 480.4,10.75 481.4,10.71 482.4,10.68 483.4,10.66 484.4,10.63 485.4,10.61 486.4,10.59 487.4,10.57 488.4,10.56 489.4,10.54 490.4,10.53 491.4,10.52 492.4,10.51 493.4,10.51 494.4,10.51 495.4,10.50 496.4,10.50 497.4,10.50 498.4,10.50 499.4,10.50 500.4,10.50 501.4,10.50 502.4,10.50 503.4,10.50 504.4,10.50 505.4,10.50 506.4,10.50 507.4,10.50 508.4,10.50 509.4,10.50 510.4,10.50 511.4,10.50 512.5,10.50 513.5,10.50 514.5,10.50 515.5,10.50 516.5,10.50 517.5,10.50 518.5,10.50 519.5,10.50 520.5,10.50 521.5,10.50 522.5,10.50 523.5,10.50 524.5,10.50 525.5,10.50 526.5,10.50 527.5,10.50 528.5,10.50 529.5,10.50 530.5,10.50 531.5,10.50 532.5,10.50 533.5,10.50 534.5,10.50 535.5,10.50 536.5,10.50 537.5,10.50 538.5,10.50 539.5,10.50 540.5,10.50 541.5,10.50 542.5,10.50 543.5,10.50 544.5,10.50 545.5,10.50 546.5,10.50 547.5,10.50 548.5,10.50 549.5,10.50 550.5,10.50 551.5,10.50 552.5,10.50 553.5,10.50 554.5,10.50 555.5,10.50 556.5,10.50 557.5,10.50 558.5,10.50 559.5,10.50 560.5,10.50 561.5,10.50 562.5,10.50 563.5,10.50 564.5,10.50 565.5,10.50 566.5,10.50 567.5,10.50 568.5,10.50 569.5,10.50 570.5,10.50 571.5,10.50 572.5,10.50 573.5,10.50 574.5,10.50 575.5,10.50 576.5,10.50 577.5,10.50 578.5,10.50 579.5,10.50 580.5,10.50 581.5,10.50 582.5,10.50 583.5,10.50 584.5,10.50 585.5,10.50 586.5,10.50 587.5,10.50 588.5,10.50 589.5,10.50 590.5,10.50 591.5,10.50 592.5,10.50 593.5,10.50 594.5,10.50 595.5,10.50 596.5,10.50 597.5,10.50 598.5,10.50 599.5,10.50 600.5,10.50 601.5,10.50 602.5,10.50 603.5,10.50 604.5,10.50 605.5,10.50 606.5,10.50 607.5,10.50 608.5,10.50 609.5,10.50 610.5,10.50 611.5,10.50 612.5,10.50 613.5,10.50 614.5,10.50 615.5,10.50 616.5,10.50 617.5,10.50 618.5,10.50 619.5,10.50 620.5,10.50 621.5,10.50 622.5,10.50 623.5,10.50 624.5,10.50 625.5,10.50 626.5,10.50 627.5,10.50 628.5,10.50 629.5,10.50 630.5,10.50" stroke="#00ff00" stroke-dasharray="8.2 3.2" stroke-dashoffset="0.7"/>
<path d="M286.4,412.64 287.4,412.62 288.4,412.60 289.4,412.58 290.4,412.55 291.4,412.53 292.4,412.50 293.4,412.48 294.4,412.45 295.4,412.42 296.4,412.38 297.4,412.35 298.4,412.31 299.4,412.27 300.4,412.22 301.4,412.18 302.4,412.13 303.4,412.08 304.4,412.02 305.4,411.97 306.4,411.91 307.4,411.84 308.4,411.77 309.4,411.70 310.4,411.62 311.4,411.54 312.4,411.45 313.4,411.35 314.4,411.26 315.4,411.15 316.4,411.04 317.4,410.92 318.4,410.80 319.4,410.67 320.4,410.53 321.4,410.39 322.4,410.23 323.4,410.07 324.4,409.89 325.4,409.71 326.4,409.52 327.4,409.32 328.4,409.10 329.4,408.87 330.4,408.64 331.4,408.39 332.4,408.13 333.4,407.85 334.4,407.55 335.4,407.23 336.4,406.89 337.4,406.53 338.4,406.15 339.4,405.74 340.4,405.30 341.4,404.84 342.4,404.35 343.4,403.82 344.4,403.26 345.4,402.67 346.4,402.03 347.4,401.36 348.4,400.64 349.4,399.88 350.4,399.07 351.4,398.21 352.4,397.29 353.4,396.32 354.4,395.29 355.4,394.19 356.4,393.03 357.4,391.80 358.4,390.50 359.4,389.12 360.4,387.66 361.4,386.12 362.4,384.49 363.4,382.78 364.4,380.97 365.4,379.06 366.4,377.05 367.4,374.94 368.4,372.72 369.4,370.38 370.4,367.93 371.4,365.36 372.4,362.67 373.4,359.85 374.4,356.90 375.4,353.81 376.4,350.59 377.4,347.24 378.4,343.74 379.4,340.10 380.4,336.32 381.4,332.39 382.4,328.32 383.4,324.11 384.4,319.75 385.4,315.25 386.4,310.62 387.4,305.84 388.4,300.94 389.4,295.90 390.4,290.74 391.4,285.47 392.4,280.08 393.4,274.58 394.4,268.99 395.4,263.31 396.4,257.54 397.4,251.71 398.4,245.81 399.4,239.86 400.4,233.87 401.4,227.85 402.4,221.81 403.4,215.77 404.4,209.72 405.4,203.69 406.4,197.68 407.4,191.70 408.4,185.78 409.4,179.90 410.4,174.09 411.4,168.36 412.4,162.70 413.4,157.14 414.4,151.67 415.4,146.29 416.4,141.03 417.4,135.87 418.4,130.84 419.4,125.92 420.4,121.12 421.4,116.45 422.4,111.91 423.4,107.49 424.4,103.21 425.4,99.06 426.4,95.04 427.4,91.16 428.4,87.40 429.4,83.78 430.4,80.28 431.4,76.91 432.4,73.67 433.4,70.56 434.4,67.56 435.4,64.68 436.4,61.92 437.4,59.28 438.4,56.75 439.4,54.32 440.4,52.00 441.4,49.78 442.4,47.66 443.4,45.64 444.4,43.71 445.4,41.87 446.4,40.12 447.4,38.45 448.4,36.86 449.4,35.34 450.4,33.90 451.4,32.54 452.4,31.24 453.4,30.00 454.4,28.84 455.4,27.74 456.4,26.70 457.4,25.73 458.4,24.82 459.4,23.96 460.4,23.16 461.4,22.42 462.4,21.72 463.4,21.08 464.4,20.48 465.4,19.92 466.4,19.39 467.4,18.91 468.4,18.46 469.4,18.03 470.4,17.64 471.4,17.27 472.4,16.92 473.4,16.59 474.4,16.28 475.4,15.99 476.4,15.72 477.4,15.46 478.4,15.21 479.4,14.98 480.4,14.76 481.4,14.55 482.4,14.35 483.4,14.16 484.4,13.98 485.4,13.81 486.4,13.65 487.4,13.49 488.4,13.34 489.4,13.20 490.4,13.07 491.4,12.93 492.4,12.81 493.4,12.68 494.4,12.56 495.4,12.45 496.4,12.34 497.4,12.23 498.4,12.13 499.4,12.03 500.4,11.93 501.4,11.84 502.4,11.75 503.4,11.66 504.4,11.58 505.4,11.50 506.4,11.43 507.4,11.36 508.4,11.29 509.4,11.22 510.4,11.16 511.4,11.10 512.5,11.05 513.5,11.00 514.5,10.95 515.5,10.90 516.5,10.86 517.5,10.82 518.5,10.78 519.5,10.75 520.5,10.72 521.5,10.69 522.5,10.66 523.5,10.64 524.5,10.61 525.5,10.59 526.5,10.58 527.5,10.56 528.5,10.55 529.5,10.54 530.5,10.53 531.5,10.52 532.5,10.51 533.5,10.51 534.5,10.50 535.5,10.50 536.5,10.50 537.5,10.50 538.5,10.50 539.5,10.50 540.5,10.50 541.5,10.50 542.5,10.50 543.5,10.50 544.5,10.50 545.5,10.50 546.5,10.50 547.5,10.50 548.5,10.50 549.5,10.50 550.5,10.50 551.5,10.50 552.5,10.50 553.5,10.50 554.5,10.50 555.5,10.50 556.5,10.50 557.5,10.50 558.5,10.50 559.5,10.50 560.5,10.50 561.5,10.50 562.5,10.50 563.5,10.50 564.5,10.50 565.5,10.50 566.5,10.50 567.5,10.50 568.5,10.50 569.5,10.50 570.5,10.50 571.5,10.50 572.5,10.50 573.5,10.50 574.5,10.50 575.5,10.50 576.5,10.50 577.5,10.50 578.5,10.50 579.5,10.50 580.5,10.50 581.5,10.50 582.5,10.50 583.5,10.50 584.5,10.50 585.5,10.50 586.5,10.50 587.5,10.50 588.5,10.50 589.5,10.50 590.5,10.50 591.5,10.50 592.5,10.50 593.5,10.50 594.5,10.50 595.5,10.50 596.5,10.50 597.5,10.50 598.5,10.50 599.5,10.50 600.5,10.50 601.5,10.50 602.5,10.50 603.5,10.50 604.5,10.50 605.5,10.50 606.5,10.50 607.5,10.50 608.5,10.50 609.5,10.50 610.5,10.50 611.5,10.50 612.5,10.50 613.5,10.50 614.5,10.50 615.5,10.50 616.5,10.50 617.5,10.50 618.5,10.50 619.5,10.50 620.5,10.50 621.5,10.50 622.5,10.50 623.5,10.50 624.5,10.50 625.5,10.50 626.5,10.50 627.5,10.50 628.5,10.50 629.5,10.50 630.5,10.50" stroke="#800080" stroke-dasharray="8.2 3.2" stroke-dashoffset="8.28"/>
<path d="M301.4,412.64 302.4,412.63 303.4,412.61 304.4,412.59 305.4,412.57 306.4,412.55 307.4,412.53 308.4,412.50 309.4,412.48 310.4,412.45 311.4,412.42 312.4,412.39 313.4,412.36 314.4,412.33 315.4,412.29 316.4,412.25 317.4,412.22 318.4,412.17 319.4,412.13 320.4,412.08 321.4,412.03 322.4,411.98 323.4,411.93 324.4,411.87 325.4,411.81 326.4,411.74 327.4,411.67 328.4,411.60 329.4,411.53 330.4,411.45 331.4,411.36 332.4,411.28 333.4,411.18 334.4,411.08 335.4,410.98 336.4,410.87 337.4,410.76 338.4,410.64 339.4,410.51 340.4,410.38 341.4,410.24 342.4,410.09 343.4,409.94 344.4,409.77 345.4,409.60 346.4,409.42 347.4,409.24 348.4,409.04 349.4,408.83 350.4,408.61 351.4,408.38 352.4,408.13 353.4,407.87 354.4,407.60 355.4,407.31 356.4,407.01 357.4,406.69 358.4,406.35 359.4,405.99 360.4,405.61 361.4,405.21 362.4,404.79 363.4,404.35 364.4,403.88 365.4,403.38 366.4,402.86 367.4,402.31 368.4,401.73 369.4,401.12 370.4,400.47 371.4,399.79 372.4,399.08 373.4,398.32 374.4,397.53 375.4,396.69 376.4,395.81 377.4,394.88 378.4,393.91 379.4,392.88 380.4,391.80 381.4,390.67 382.4,389.47 383.4,388.22 384.4,386.91 385.4,385.53 386.4,384.08 387.4,382.56 388.4,380.97 389.4,379.30 390.4,377.56 391.4,375.73 392.4,373.83 393.4,371.83 394.4,369.75 395.4,367.58 396.4,365.31 397.4,362.95 398.4,360.49 399.4,357.93 400.4,355.27 401.4,352.50 402.4,349.63 403.4,346.66 404.4,343.57 405.4,340.38 406.4,337.08 407.4,333.67 408.4,330.15 409.4,326.52 410.4,322.79 411.4,318.94 412.4,315.00 413.4,310.94 414.4,306.79 415.4,302.54 416.4,298.19 417.4,293.75 418.4,289.22 419.4,284.61 420.4,279.92 421.4,275.16 422.4,270.32 423.4,265.42 424.4,260.47 425.4,255.46 426.4,250.41 427.4,245.32 428.4,240.20 429.4,235.05 430.4,229.89 431.4,224.71 432.4,219.53 433.4,214.35 434.4,209.17 435.4,204.01 436.4,198.87 437.4,193.75 438.4,188.67 439.4,183.62 440.4,178.61 441.4,173.65 442.4,168.74 443.4,163.89 444.4,159.11 445.4,154.38 446.4,149.73 447.4,145.16 448.4,140.66 449.4,136.24 450.4,131.90 451.4,127.65 452.4,123.49 453.4,119.42 454.4,115.45 455.4,111.56 456.4,107.77 457.4,104.08 458.4,100.48 459.4,96.98 460.4,93.57 461.4,90.26 462.4,87.05 463.4,83.94 464.4,80.91 465.4,77.99 466.4,75.15 467.4,72.41 468.4,69.76 469.4,67.20 470.4,64.72 471.4,62.34 472.4,60.03 473.4,57.81 474.4,55.67 475.4,53.61 476.4,51.63 477.4,49.72 478.4,47.89 479.4,46.12 480.4,44.43 481.4,42.80 482.4,41.24 483.4,39.74 484.4,38.31 485.4,36.93 486.4,35.61 487.4,34.35 488.4,33.14 489.4,31.98 490.4,30.87 491.4,29.82 492.4,28.81 493.4,27.85 494.4,26.94 495.4,26.08 496.4,25.26 497.4,24.48 498.4,23.75 499.4,23.06 500.4,22.42 501.4,21.80 502.4,21.23 503.4,20.69 504.4,20.18 505.4,19.70 506.4,19.25 507.4,18.83 508.4,18.43 509.4,18.06 510.4,17.70 511.4,17.36 512.5,17.04 513.5,16.73 514.5,16.44 515.5,16.16 516.5,15.90 517.5,15.64 518.5,15.39 519.5,15.16 520.5,14.93 521.5,14.71 522.5,14.50 523.5,14.30 524.5,14.10 525.5,13.91 526.5,13.72 527.5,13.54 528.5,13.37 529.5,13.20 530.5,13.04 531.5,12.89 532.5,12.74 533.5,12.60 534.5,12.47 535.5,12.34 536.5,12.22 537.5,12.10 538.5,11.98 539.5,11.87 540.5,11.77 541.5,11.67 542.5,11.58 543.5,11.49 544.5,11.40 545.5,11.32 546.5,11.24 547.5,11.17 548.5,11.10 549.5,11.04 550.5,10.98 551.5,10.93 552.5,10.88 553.5,10.83 554.5,10.79 555.5,10.75 556.5,10.71 557.5,10.68 558.5,10.65 559.5,10.62 560.5,10.60 561.5,10.58 562.5,10.56 563.5,10.54 564.5,10.53 565.5,10.52 566.5,10.51 567.5,10.51 568.5,10.50 569.5,10.50 570.5,10.50 571.5,10.50 572.5,10.50 573.5,10.50 574.5,10.50 575.5,10.50 576.5,10.50 577.5,10.50 578.5,10.50 579.5,10.50 580.5,10.50 581.5,10.50 582.5,10.50 583.5,10.50 584.5,10.50 585.5,10.50 586.5,10.50 587.5,10.50 588.5,10.50 589.5,10.50 590.5,10.50 591.5,10.50 592.5,10.50 593.5,10.50 594.5,10.50 595.5,10.50 596.5,10.50 597.5,10.50 598.5,10.50 599.5,10.50 600.5,10.50 601.5,10.50 602.5,10.50 603.5,10.50 604.5,10.50 605.5,10.50 606.5,10.50 607.5,10.50 608.5,10.50 609.5,10.50 610.5,10.50 611.5,10.50 612.5,10.50 613.5,10.50 614.5,10.50 615.5,10.50 616.5,10.50 617.5,10.50 618.5,10.50 619.5,10.50 620.5,10.50 621.5,10.50 622.5,10.50 623.5,10.50 624.5,10.50 625.5,10.50 626.5,10.50 627.5,10.50 628.5,10.50 629.5,10.50 630.5,10.50" stroke="#ff0000" stroke-linecap="square"/>
<path d="M300.4,412.64 301.4,412.62 302.4,412.61 303.4,412.59 304.4,412.57 305.4,412.55 306.4,412.53 307.4,412.51 308.4,412.48 309.4,412.46 310.4,412.43 311.4,412.40 312.4,412.37 313.4,412.34 314.4,412.31 315.4,412.28 316.4,412.24 317.4,412.20 318.4,412.16 319.4,412.12 320.4,412.08 321.4,412.03 322.4,411.98 323.4,411.93 324.4,411.88 325.4,411.82 326.4,411.76 327.4,411.70 328.4,411.64 329.4,411.57 330.4,411.49 331.4,411.42 332.4,411.34 333.4,411.26 334.4,411.17 335.4,411.08 336.4,410.98 337.4,410.88 338.4,410.77 339.4,410.66 340.4,410.54 341.4,410.42 342.4,410.29 343.4,410.16 344.4,410.02 345.4,409.87 346.4,409.72 347.4,409.56 348.4,409.39 349.4,409.22 350.4,409.04 351.4,408.85 352.4,408.65 353.4,408.43 354.4,408.21 355.4,407.97 356.4,407.72 357.4,407.45 358.4,407.17 359.4,406.87 360.4,406.56 361.4,406.23 362.4,405.87 363.4,405.50 364.4,405.11 365.4,404.69 366.4,404.25 367.4,403.79 368.4,403.30 369.4,402.78 370.4,402.23 371.4,401.65 372.4,401.04 373.4,400.39 374.4,399.71 375.4,398.99 376.4,398.24 377.4,397.44 378.4,396.60 379.4,395.71 380.4,394.78 381.4,393.80 382.4,392.77 383.4,391.69 384.4,390.55 385.4,389.36 386.4,388.11 387.4,386.79 388.4,385.42 389.4,383.98 390.4,382.47 391.4,380.89 392.4,379.24 393.4,377.51 394.4,375.71 395.4,373.82 396.4,371.85 397.4,369.80 398.4,367.65 399.4,365.42 400.4,363.10 401.4,360.68 402.4,358.16 403.4,355.55 404.4,352.83 405.4,350.02 406.4,347.10 407.4,344.07 408.4,340.94 409.4,337.71 410.4,334.36 411.4,330.92 412.4,327.36 413.4,323.69 414.4,319.93 415.4,316.05 416.4,312.07 417.4,307.99 418.4,303.81 419.4,299.53 420.4,295.16 421.4,290.70 422.4,286.15 423.4,281.52 424.4,276.80 425.4,272.02 426.4,267.16 427.4,262.24 428.4,257.26 429.4,252.23 430.4,247.15 431.4,242.04 432.4,236.89 433.4,231.71 434.4,226.52 435.4,221.31 436.4,216.10 437.4,210.88 438.4,205.68 439.4,200.49 440.4,195.32 441.4,190.17 442.4,185.06 443.4,179.99 444.4,174.96 445.4,169.99 446.4,165.07 447.4,160.21 448.4,155.42 449.4,150.70 450.4,146.05 451.4,141.49 452.4,137.00 453.4,132.61 454.4,128.30 455.4,124.08 456.4,119.96 457.4,115.93 458.4,112.00 459.4,108.17 460.4,104.44 461.4,100.81 462.4,97.28 463.4,93.85 464.4,90.52 465.4,87.29 466.4,84.16 467.4,81.13 468.4,78.20 469.4,75.36 470.4,72.62 471.4,69.97 472.4,67.42 473.4,64.96 474.4,62.58 475.4,60.29 476.4,58.09 477.4,55.97 478.4,53.93 479.4,51.97 480.4,50.09 481.4,48.28 482.4,46.55 483.4,44.88 484.4,43.28 485.4,41.75 486.4,40.28 487.4,38.88 488.4,37.53 489.4,36.24 490.4,35.01 491.4,33.83 492.4,32.70 493.4,31.62 494.4,30.59 495.4,29.61 496.4,28.67 497.4,27.77 498.4,26.92 499.4,26.10 500.4,25.32 501.4,24.58 502.4,23.87 503.4,23.20 504.4,22.56 505.4,21.95 506.4,21.38 507.4,20.82 508.4,20.30 509.4,19.80 510.4,19.33 511.4,18.88 512.5,18.46 513.5,18.05 514.5,17.67 515.5,17.30 516.5,16.96 517.5,16.63 518.5,16.32 519.5,16.02 520.5,15.74 521.5,15.47 522.5,15.22 523.5,14.98 524.5,14.76 525.5,14.54 526.5,14.34 527.5,14.15 528.5,13.96 529.5,13.79 530.5,13.63 531.5,13.47 532.5,13.32 533.5,13.18 534.5,13.04 535.5,12.91 536.5,12.78 537.5,12.66 538.5,12.54 539.5,12.42 540.5,12.31 541.5,12.20 542.5,12.10 543.5,12.00 544.5,11.90 545.5,11.81 546.5,11.72 547.5,11.64 548.5,11.55 549.5,11.48 550.5,11.40 551.5,11.33 552.5,11.26 553.5,11.20 554.5,11.14 555.5,11.08 556.5,11.03 557.5,10.98 558.5,10.93 559.5,10.88 560.5,10.84 561.5,10.80 562.5,10.77 563.5,10.73 564.5,10.70 565.5,10.67 566.5,10.65 567.5,10.62 568.5,10.60 569.5,10.58 570.5,10.57 571.5,10.55 572.5,10.54 573.5,10.53 574.5,10.52 575.5,10.51 576.5,10.51 577.5,10.51 578.5,10.50 579.5,10.50 580.5,10.50 581.5,10.50 582.5,10.50 583.5,10.50 584.5,10.50 585.5,10.50 586.5,10.50 587.5,10.50 588.5,10.50 589.5,10.50 590.5,10.50 591.5,10.50 592.5,10.50 593.5,10.50 594.5,10.50 595.5,10.50 596.5,10.50 597.5,10.50 598.5,10.50 599.5,10.50 600.5,10.50 601.5,10.50 602.5,10.50 603.5,10.50 604.5,10.50 605.5,10.50 606.5,10.50 607.5,10.50 608.5,10.50 609.5,10.50 610.5,10.50 611.5,10.50 612.5,10.50 613.5,10.50 614.5,10.50 615.5,10.50 616.5,10.50 617.5,10.50 618.5,10.50 619.5,10.50 620.5,10.50 621.5,10.50 622.5,10.50 623.5,10.50 624.5,10.50 625.5,10.50 626.5,10.50 627.5,10.50 628.5,10.50 629.5,10.50 630.5,10.50" stroke="#0000ff" stroke-linecap="square"/>
<path d="M323.4,412.64 324.4,412.62 325.4,412.60 326.4,412.58 327.4,412.56 328.4,412.54 329.4,412.52 330.4,412.50 331.4,412.47 332.4,412.44 333.4,412.42 334.4,412.39 335.4,412.35 336.4,412.32 337.4,412.29 338.4,412.25 339.4,412.21 340.4,412.17 341.4,412.12 342.4,412.08 343.4,412.03 344.4,411.98 345.4,411.92 346.4,411.86 347.4,411.80 348.4,411.74 349.4,411.67 350.4,411.60 351.4,411.53 352.4,411.45 353.4,411.36 354.4,411.27 355.4,411.18 356.4,411.08 357.4,410.98 358.4,410.87 359.4,410.76 360.4,410.64 361.4,410.52 362.4,410.38 363.4,410.24 364.4,410.10 365.4,409.94 366.4,409.78 367.4,409.61 368.4,409.43 369.4,409.24 370.4,409.04 371.4,408.83 372.4,408.60 373.4,408.37 374.4,408.12 375.4,407.86 376.4,407.58 377.4,407.29 378.4,406.98 379.4,406.66 380.4,406.32 381.4,405.96 382.4,405.58 383.4,405.18 384.4,404.76 385.4,404.32 386.4,403.85 387.4,403.36 388.4,402.85 389.4,402.30 390.4,401.73 391.4,401.13 392.4,400.49 393.4,399.83 394.4,399.13 395.4,398.39 396.4,397.61 397.4,396.80 398.4,395.94 399.4,395.04 400.4,394.10 401.4,393.10 402.4,392.06 403.4,390.97 404.4,389.82 405.4,388.62 406.4,387.35 407.4,386.03 408.4,384.65 409.4,383.20 410.4,381.68 411.4,380.09 412.4,378.43 413.4,376.69 414.4,374.88 415.4,372.98 416.4,371.00 417.4,368.94 418.4,366.78 419.4,364.54 420.4,362.21 421.4,359.78 422.4,357.25 423.4,354.62 424.4,351.90 425.4,349.07 426.4,346.13 427.4,343.09 428.4,339.95 429.4,336.69 430.4,333.33 431.4,329.86 432.4,326.28 433.4,322.59 434.4,318.79 435.4,314.89 436.4,310.88 437.4,306.76 438.4,302.54 439.4,298.22 440.4,293.81 441.4,289.30 442.4,284.70 443.4,280.01 444.4,275.24 445.4,270.39 446.4,265.48 447.4,260.49 448.4,255.44 449.4,250.34 450.4,245.19 451.4,240.00 452.4,234.77 453.4,229.52 454.4,224.24 455.4,218.95 456.4,213.66 457.4,208.36 458.4,203.08 459.4,197.81 460.4,192.56 461.4,187.34 462.4,182.15 463.4,177.01 464.4,171.92 465.4,166.89 466.4,161.91 467.4,157.00 468.4,152.17 469.4,147.41 470.4,142.73 471.4,138.13 472.4,133.63 473.4,129.22 474.4,124.90 475.4,120.68 476.4,116.56 477.4,112.55 478.4,108.63 479.4,104.82 480.4,101.12 481.4,97.52 482.4,94.03 483.4,90.64 484.4,87.36 485.4,84.18 486.4,81.11 487.4,78.14 488.4,75.27 489.4,72.50 490.4,69.83 491.4,67.26 492.4,64.78 493.4,62.39 494.4,60.09 495.4,57.88 496.4,55.76 497.4,53.72 498.4,51.77 499.4,49.89 500.4,48.09 501.4,46.36 502.4,44.71 503.4,43.12 504.4,41.60 505.4,40.15 506.4,38.76 507.4,37.43 508.4,36.16 509.4,34.95 510.4,33.79 511.4,32.68 512.5,31.62 513.5,30.61 514.5,29.64 515.5,28.72 516.5,27.84 517.5,27.00 518.5,26.21 519.5,25.44 520.5,24.72 521.5,24.02 522.5,23.36 523.5,22.73 524.5,22.14 525.5,21.56 526.5,21.02 527.5,20.50 528.5,20.01 529.5,19.54 530.5,19.09 531.5,18.67 532.5,18.26 533.5,17.88 534.5,17.51 535.5,17.16 536.5,16.83 537.5,16.52 538.5,16.22 539.5,15.93 540.5,15.66 541.5,15.40 542.5,15.16 543.5,14.92 544.5,14.70 545.5,14.49 546.5,14.29 547.5,14.10 548.5,13.92 549.5,13.75 550.5,13.58 551.5,13.43 552.5,13.28 553.5,13.14 554.5,13.00 555.5,12.87 556.5,12.74 557.5,12.62 558.5,12.50 559.5,12.38 560.5,12.27 561.5,12.16 562.5,12.06 563.5,11.96 564.5,11.86 565.5,11.77 566.5,11.68 567.5,11.60 568.5,11.52 569.5,11.44 570.5,11.37 571.5,11.30 572.5,11.23 573.5,11.17 574.5,11.11 575.5,11.05 576.5,11.00 577.5,10.95 578.5,10.90 579.5,10.86 580.5,10.82 581.5,10.78 582.5,10.74 583.5,10.71 584.5,10.68 585.5,10.65 586.5,10.63 587.5,10.61 588.5,10.59 589.5,10.57 590.5,10.56 591.5,10.54 592.5,10.53 593.5,10.52 594.5,10.52 595.5,10.51 596.5,10.51 597.5,10.50 598.5,10.50 599.5,10.50 600.5,10.50 601.5,10.50 602.5,10.50 603.5,10.50 604.5,10.50 605.5,10.50 606.5,10.50 607.5,10.50 608.5,10.50 609.5,10.50 610.5,10.50 611.5,10.50 612.5,10.50 613.5,10.50 614.5,10.50 615.5,10.50 616.5,10.50 617.5,10.50 618.5,10.50 619.5,10.50 620.5,10.50 621.5,10.50 622.5,10.50 623.5,10.50 624.5,10.50 625.5,10.50 626.5,10.50 627.5,10.50 628.5,10.50 629.5,10.50 630.5,10.50" stroke="#00ff00" stroke-linecap="square"/>
<path d="M66.5,412.90 67.5,412.90 68.5,412.90 69.5,412.90 70.5,412.90 71.5,412.90 72.5,412.90 73.5,412.90 74.5,412.90 75.5,412.90 76.5,412.90 77.5,412.90 78.5,412.90 79.5,412.90 80.5,412.90 81.5,412.90 82.5,412.90 83.5,412.90 84.5,412.90 85.5,412.90 86.5,412.90 87.5,412.90 88.5,412.90 89.5,412.90 90.5,412.90 91.5,412.90 92.5,412.90 93.5,412.90 94.5,412.90 95.5,412.90 96.5,412.90 97.5,412.90 98.5,412.90 99.5,412.90 100.5,412.90 101.5,412.90 102.5,412.90 103.5,412.90 104.5,412.90 105.5,412.90 106.5,412.90 107.5,412.90 108.5,412.90 109.5,412.90 110.5,412.90 111.5,412.90 112.5,412.90 113.5,412.90 114.5,412.90 115.5,412.90 116.5,412.90 117.5,412.90 118.5,412.90 119.5,412.90 120.5,412.90 121.5,412.90 122.5,412.90 123.5,412.90 124.5,412.90 125.5,412.90 126.5,412.90 127.5,412.90 128.4,412.90 129.4,412.90 130.4,412.90 131.4,412.90 132.4,412.90 133.4,412.90 134.4,412.90 135.4,412.90 136.4,412.90 137.4,412.90 138.4,412.90 139.4,412.90 140.4,412.90 141.4,412.90 142.4,412.90 143.4,412.90 144.4,412.90 145.4,412.90 146.4,412.90 147.4,412.90 148.4,412.90 149.4,412.90 150.4,412.90 151.4,412.90 152.4,412.90 153.4,412.90 154.4,412.90 155.4,412.90 156.4,412.90 157.4,412.90 158.4,412.90 159.4,412.90 160.4,412.90 161.4,412.90 162.4,412.90 163.4,412.90 164.4,412.90 165.4,412.90 166.4,412.90 167.4,412.90 168.4,412.90 169.4,412.90 170.4,412.90 171.4,412.90 172.4,412.90 173.4,412.90 174.4,412.90 175.4,412.90 176.4,412.90 177.4,412.90 178.4,412.90 179.4,412.90 180.4,412.90 181.4,412.90 182.4,412.90 183.4,412.90 184.4,412.90 185.4,412.90 186.4,412.90 187.4,412.90 188.4,412.90 189.4,412.90 190.4,412.90 191.4,412.90 192.4,412.90 193.4,412.90 194.4,412.90 195.4,412.90 196.4,412.90 197.4,412.90 198.4,412.90 199.4,412.90 200.4,412.90 201.4,412.90 202.4,412.90 203.4,412.90 204.4,412.90 205.4,412.90 206.4,412.90 207.4,412.90 208.4,412.90 209.4,412.90 210.4,412.90 211.4,412.90 212.4,412.90 213.4,412.90 214.4,412.90 215.4,412.90 216.4,412.90 217.4,412.90 218.4,412.90 219.4,412.90 220.4,412.90 221.4,412.90 222.4,412.90 223.4,412.90 224.4,412.90 225.4,412.90 226.4,412.90 227.4,412.90 228.4,412.90 229.4,412.90 230.4,412.90 231.4,412.90 232.4,412.90 233.4,412.90 234.4,412.90 235.4,412.90 236.4,412.90 237.4,412.90 238.4,412.90 239.4,412.90 240.4,412.90 241.4,412.90 242.4,412.90 243.4,412.90 244.4,412.90 245.4,412.90 246.4,412.90 247.4,412.90 248.4,412.90 249.4,412.90 250.4,412.90 251.4,412.90 252.4,412.90 253.4,412.90 254.4,412.90 255.4,412.90 256.4,412.90 257.4,412.90 258.4,412.90 259.4,412.90 260.4,412.90 261.4,412.90 262.4,412.90 263.4,412.90 264.4,412.90 265.4,412.90 266.4,412.90 267.4,412.90 268.4,412.90 269.4,412.90 270.4,412.90 271.4,412.90 272.4,412.90 273.4,412.90 274.4,412.90 275.4,412.90 276.4,412.90 277.4,412.90 278.4,412.90 279.4,412.90 280.4,412.90 281.4,412.90 282.4,412.90 283.4,412.90 284.4,412.90 285.4,412.90 286.4,412.90 287.4,412.90 288.4,412.90 289.4,412.90 290.4,412.90 291.4,412.90 292.4,412.90 293.4,412.90 294.4,412.90 295.4,412.90 296.4,412.90 297.4,412.90 298.4,412.90 299.4,412.90 300.4,412.90 301.4,412.90 302.4,412.90 303.4,412.90 304.4,412.90 305.4,412.90 306.4,412.90 307.4,412.90 308.4,412.90 309.4,412.90 310.4,412.90 311.4,412.90 312.4,412.90 313.4,412.90 314.4,412.90 315.4,412.90 316.4,412.90 317.4,412.90 318.4,412.90 319.4,412.90 320.4,412.90 321.4,412.90 322.4,412.90 323.4,412.90 324.4,412.90 325.4,412.90 326.4,412.90 327.4,412.90 328.4,412.90 329.4,412.90 330.4,412.90 331.4,412.90 332.4,412.90 333.4,412.90 334.4,412.90 335.4,412.90 336.4,412.90 337.4,412.89 338.4,412.89 339.4,412.89 340.4,412.89 341.4,412.89 342.4,412.89 343.4,412.89 344.4,412.89 345.4,412.89 346.4,412.89 347.4,412.89 348.4,412.89 349.4,412.89 350.4,412.89 351.4,412.88 352.4,412.88 353.4,412.88 354.4,412.88 355.4,412.88 356.4,412.88 357.4,412.88 358.4,412.87 359.4,412.87 360.4,412.87 361.4,412.87 362.4,412.86 363.4,412.86 364.4,412.86 365.4,412.86 366.4,412.85 367.4,412.85 368.4,412.85 369.4,412.84 370.4,412.84 371.4,412.83 372.4,412.83 373.4,412.82 374.4,412.82 375.4,412.81 376.4,412.80 377.4,412.80 378.4,412.79 379.4,412.78 380.4,412.77 381.4,412.76 382.4,412.75 383.4,412.74 384.4,412.73 385.4,412.72 386.4,412.71 387.4,412.70 388.4,412.68 389.4,412.67 390.4,412.65 391.4,412.63 392.4,412.61 393.4,412.59 394.4,412.57 395.4,412.55 396.4,412.53 397.4,412.50 398.4,412.48 399.4,412.45 400.4,412.42 401.4,412.38 402.4,412.35 403.4,412.31 404.4,412.27 405.4,412.23 406.4,412.19 407.4,412.14 408.4,412.09 409.4,412.04 410.4,411.98 411.4,411.92 412.4,411.86 413.4,411.79 414.4,411.72 415.4,411.65 416.4,411.57 417.4,411.48 418.4,411.39 419.4,411.30 420.4,411.20 421.4,411.09 422.4,410.98 423.4,410.86 424.4,410.73 425.4,410.60 426.4,410.45 427.4,410.30 428.4,410.14 429.4,409.97 430.4,409.80 431.4,409.61 432.4,409.41 433.4,409.20 434.4,408.97 435.4,408.74 436.4,408.49 437.4,408.22 438.4,407.94 439.4,407.64 440.4,407.33 441.4,406.99 442.4,406.64 443.4,406.26 444.4,405.86 445.4,405.44 446.4,404.99 447.4,404.52 448.4,404.02 449.4,403.48 450.4,402.92 451.4,402.32 452.4,401.69 453.4,401.02 454.4,400.32 455.4,399.57 456.4,398.78 457.4,397.94 458.4,397.06 459.4,396.12 460.4,395.13 461.4,394.09 462.4,392.99 463.4,391.82 464.4,390.60 465.4,389.30 466.4,387.93 467.4,386.49 468.4,384.98 469.4,383.38 470.4,381.70 471.4,379.93 472.4,378.06 473.4,376.11 474.4,374.05 475.4,371.90 476.4,369.64 477.4,367.27 478.4,364.78 479.4,362.18 480.4,359.46 481.4,356.62 482.4,353.66 483.4,350.56 484.4,347.34 485.4,343.98 486.4,340.49 487.4,336.86 488.4,333.09 489.4,329.19 490.4,325.15 491.4,320.97 492.4,316.65 493.4,312.20 494.4,307.61 495.4,302.90 496.4,298.05 497.4,293.08 498.4,287.99 499.4,282.78 500.4,277.47 501.4,272.05 502.4,266.54 503.4,260.94 504.4,255.25 505.4,249.50 506.4,243.69 507.4,237.82 508.4,231.91 509.4,225.97 510.4,220.00 511.4,214.03 512.5,208.05 513.5,202.09 514.5,196.14 515.5,190.23 516.5,184.35 517.5,178.53 518.5,172.77 519.5,167.07 520.5,161.46 521.5,155.93 522.5,150.49 523.5,145.16 524.5,139.93 525.5,134.81 526.5,129.82 527.5,124.94 528.5,120.19 529.5,115.57 530.5,111.08 531.5,106.73 532.5,102.51 533.5,98.42 534.5,94.47 535.5,90.66 536.5,86.98 537.5,83.43 538.5,80.02 539.5,76.74 540.5,73.59 541.5,70.56 542.5,67.66 543.5,64.87 544.5,62.21 545.5,59.66 546.5,57.22 547.5,54.89 548.5,52.67 549.5,50.54 550.5,48.52 551.5,46.59 552.5,44.75 553.5,42.99 554.5,41.32 555.5,39.74 556.5,38.23 557.5,36.79 558.5,35.42 559.5,34.13 560.5,32.90 561.5,31.73 562.5,30.61 563.5,29.56 564.5,28.56 565.5,27.61 566.5,26.71 567.5,25.86 568.5,25.05 569.5,24.28 570.5,23.55 571.5,22.87 572.5,22.21 573.5,21.59 574.5,21.01 575.5,20.45 576.5,19.93 577.5,19.43 578.5,18.96 579.5,18.51 580.5,18.09 581.5,17.69 582.5,17.31 583.5,16.95 584.5,16.61 585.5,16.29 586.5,15.99 587.5,15.70 588.5,15.43 589.5,15.17 590.5,14.92 591.5,14.69 592.5,14.47 593.5,14.26 594.5,14.07 595.5,13.88 596.5,13.71 597.5,13.54 598.5,13.38 599.5,13.23 600.5,13.09 601.5,12.95 602.5,12.81 603.5,12.68 604.5,12.56 605.5,12.44 606.5,12.32 607.5,12.21 608.5,12.10 609.5,11.99 610.5,11.89 611.5,11.80 612.5,11.70 613.5,11.62 614.5,11.53 615.5,11.45 616.5,11.38 617.5,11.30 618.5,11.23 619.5,11.17 620.5,11.11 621.5,11.05 622.5,10.99 623.5,10.94 624.5,10.90 625.5,10.85 626.5,10.81 627.5,10.77 628.5,10.74 629.5,10.70 630.5,10.67 631.5,10.65 632.5,10.62 633.5,10.60 634.5,10.58 635.5,10.56 636.5,10.55 637.5,10.54 638.5,10.53 639.5,10.52 640.5,10.51 641.5,10.51 642.5,10.50 643.5,10.50 644.5,10.50 645.5,10.50 646.5,10.50 647.5,10.50 648.5,10.50 649.5,10.50 650.5,10.50 651.5,10.50 652.5,10.50 653.5,10.50 654.5,10.50 655.5,10.50 656.5,10.50 657.5,10.50 658.5,10.50 659.5,10.50 660.5,10.50 661.5,10.50 662.5,10.50 663.5,10.50 664.5,10.50 665.5,10.50 666.5,10.50 667.5,10.50 668.5,10.50 669.5,10.50 670.5,10.50 671.5,10.50 672.5,10.50 673.5,10.50 674.5,10.50 675.5,10.50 676.5,10.50 677.5,10.50 678.5,10.50 679.5,10.50 680.5,10.50 681.5,10.50 682.5,10.50 683.5,10.50 684.5,10.50 685.5,10.50 686.5,10.50 687.5,10.50 688.5,10.50 689.5,10.50 690.5,10.50 691.5,10.50" stroke="#800080" stroke-linecap="square"/>
</g>
<line x1="725.5" y1="187.7" x2="752.5" y2="187.7" stroke="#ff0000" stroke-width="2.4"/>
<text x="762.35 775.74 785.07" y="195.0" font-size="16.5px" fill="#000">Q=0</text>
<line x1="725.5" y1="217.4" x2="752.5" y2="217.4" stroke="#0000ff" stroke-width="2.4"/>
<text x="762.35 775.74 785.07 794.30 799.23 809.61" y="224.0" font-size="16.5px" fill="#000">Q=0.1M</text>
<line x1="725.5" y1="247.0" x2="752.5" y2="247.0" stroke="#00ff00" stroke-width="2.4"/>
<text x="762.35 775.74 785.07 794.30 799.23 809.61" y="254.0" font-size="16.5px" fill="#000">Q=0.5M</text>
<line x1="725.5" y1="276.8" x2="752.5" y2="276.8" stroke="#800080" stroke-width="2.4"/>
<text x="762.35 775.74 785.07" y="284.0" font-size="16.5px" fill="#000">Q=M</text>
</svg></body></html>
